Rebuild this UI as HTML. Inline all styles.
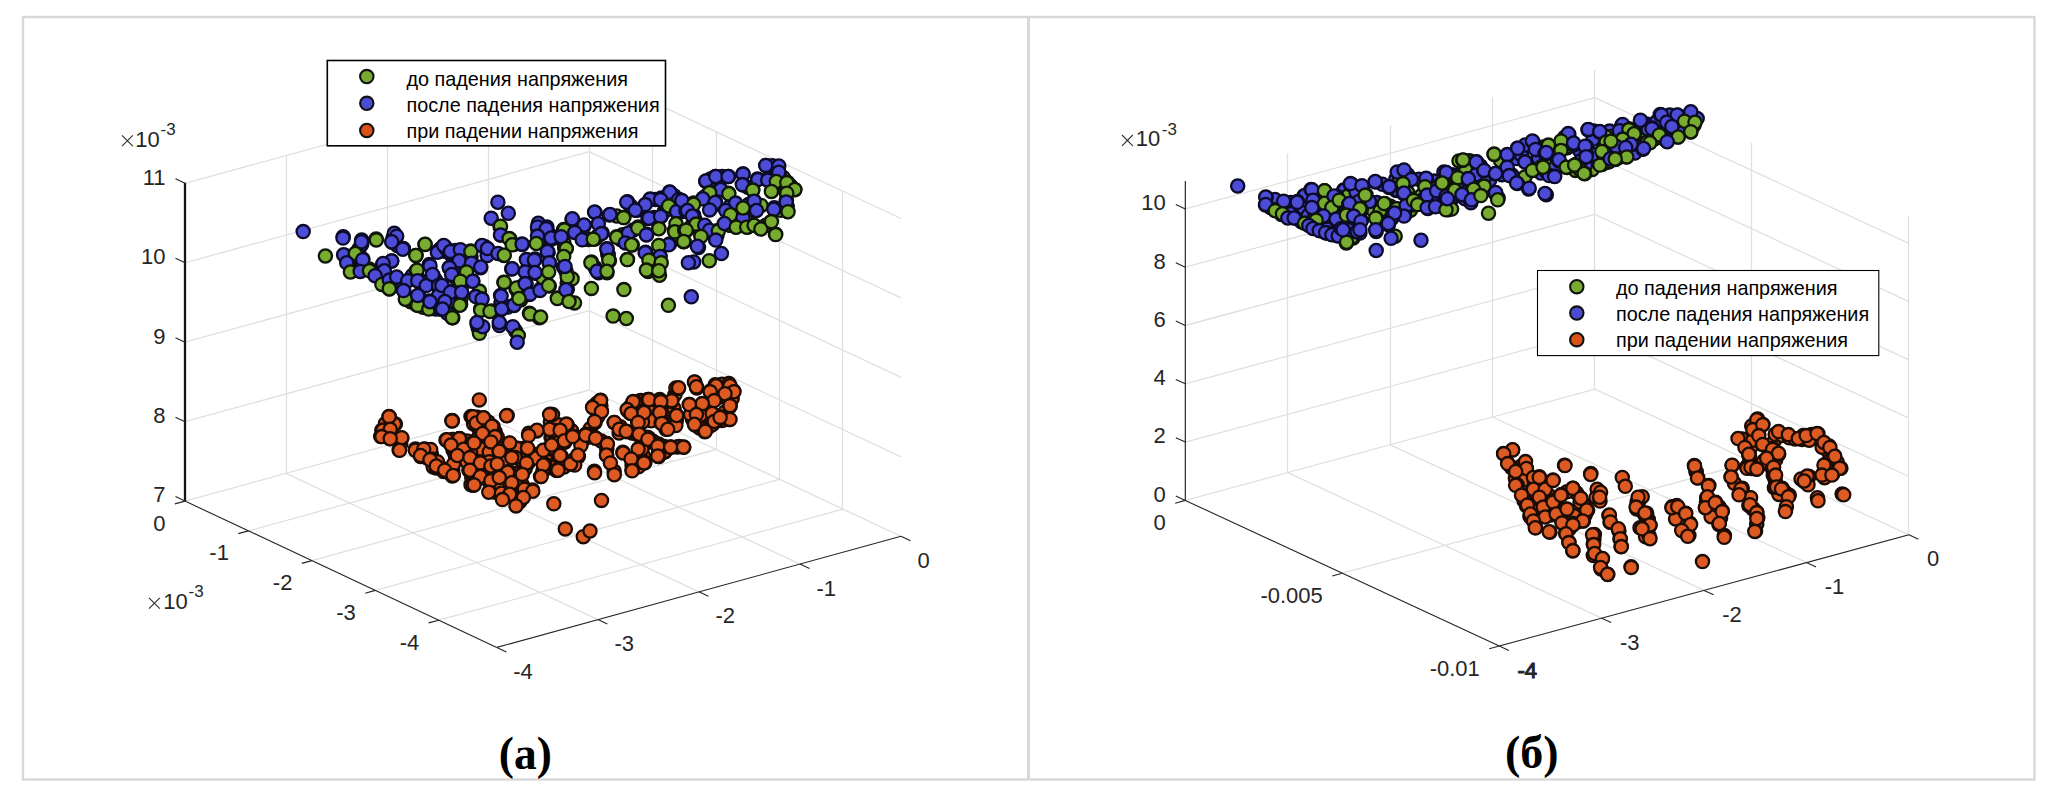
<!DOCTYPE html>
<html><head><meta charset="utf-8"><style>
html,body{margin:0;padding:0;background:#fff;width:2060px;height:810px;overflow:hidden}
svg{display:block;font-family:"Liberation Sans",sans-serif}
.G{fill:#77ac30;stroke:#0f1508;stroke-width:2.3px}
.B{fill:#4c4cd8;stroke:#0c0c2a;stroke-width:2.3px}
.O{fill:#dd5a22;stroke:#1c0c06;stroke-width:2.3px}
</style></head><body>
<svg width="2060" height="810" viewBox="0 0 2060 810">
<rect width="2060" height="810" fill="#fff"/>
<rect x="23" y="17" width="2011.5" height="762.5" fill="none" stroke="#d8d8d8" stroke-width="2.4"/>
<line x1="1028.5" y1="17" x2="1028.5" y2="780" stroke="#d8d8d8" stroke-width="3"/>
<line x1="185.0" y1="501.1" x2="589.2" y2="390.0" stroke="#e0e0e0" stroke-width="1.3"/>
<line x1="248.4" y1="530.9" x2="652.6" y2="419.8" stroke="#e0e0e0" stroke-width="1.3"/>
<line x1="311.9" y1="560.6" x2="716.1" y2="449.5" stroke="#e0e0e0" stroke-width="1.3"/>
<line x1="375.3" y1="590.4" x2="779.5" y2="479.3" stroke="#e0e0e0" stroke-width="1.3"/>
<line x1="438.8" y1="620.2" x2="843.0" y2="509.1" stroke="#e0e0e0" stroke-width="1.3"/>
<line x1="286.1" y1="473.3" x2="597.9" y2="619.6" stroke="#e0e0e0" stroke-width="1.3"/>
<line x1="387.1" y1="445.6" x2="698.9" y2="591.8" stroke="#e0e0e0" stroke-width="1.3"/>
<line x1="488.1" y1="417.8" x2="800.0" y2="564.1" stroke="#e0e0e0" stroke-width="1.3"/>
<line x1="589.2" y1="390.0" x2="901.0" y2="536.3" stroke="#e0e0e0" stroke-width="1.3"/>
<line x1="185.0" y1="421.7" x2="589.2" y2="310.6" stroke="#e0e0e0" stroke-width="1.3"/>
<line x1="589.2" y1="310.6" x2="901.0" y2="456.8" stroke="#e0e0e0" stroke-width="1.3"/>
<line x1="185.0" y1="342.2" x2="589.2" y2="231.1" stroke="#e0e0e0" stroke-width="1.3"/>
<line x1="589.2" y1="231.1" x2="901.0" y2="377.4" stroke="#e0e0e0" stroke-width="1.3"/>
<line x1="185.0" y1="262.8" x2="589.2" y2="151.7" stroke="#e0e0e0" stroke-width="1.3"/>
<line x1="589.2" y1="151.7" x2="901.0" y2="297.9" stroke="#e0e0e0" stroke-width="1.3"/>
<line x1="185.0" y1="183.3" x2="589.2" y2="72.2" stroke="#e0e0e0" stroke-width="1.3"/>
<line x1="589.2" y1="72.2" x2="901.0" y2="218.5" stroke="#e0e0e0" stroke-width="1.3"/>
<line x1="286.5" y1="473.3" x2="286.5" y2="155.0" stroke="#e0e0e0" stroke-width="1.3"/>
<line x1="387.5" y1="445.6" x2="387.5" y2="127.2" stroke="#e0e0e0" stroke-width="1.3"/>
<line x1="488.5" y1="417.8" x2="488.5" y2="99.5" stroke="#e0e0e0" stroke-width="1.3"/>
<line x1="589.5" y1="390.0" x2="589.5" y2="71.7" stroke="#e0e0e0" stroke-width="1.3"/>
<line x1="652.5" y1="419.8" x2="652.5" y2="101.5" stroke="#e0e0e0" stroke-width="1.3"/>
<line x1="716.5" y1="449.5" x2="716.5" y2="131.2" stroke="#e0e0e0" stroke-width="1.3"/>
<line x1="779.5" y1="479.3" x2="779.5" y2="161.0" stroke="#e0e0e0" stroke-width="1.3"/>
<line x1="842.5" y1="509.1" x2="842.5" y2="190.8" stroke="#e0e0e0" stroke-width="1.3"/>
<line x1="185.0" y1="501.1" x2="185.0" y2="182.8" stroke="#141414" stroke-width="2.3"/>
<line x1="185.0" y1="501.1" x2="175.5" y2="496.6" stroke="#262626" stroke-width="1.1"/>
<text x="165.5" y="502.4" text-anchor="end" font-size="22" fill="#262626" >7</text>
<line x1="185.0" y1="421.7" x2="175.5" y2="417.2" stroke="#262626" stroke-width="1.1"/>
<text x="165.5" y="423.0" text-anchor="end" font-size="22" fill="#262626" >8</text>
<line x1="185.0" y1="342.2" x2="175.5" y2="337.7" stroke="#262626" stroke-width="1.1"/>
<text x="165.5" y="343.5" text-anchor="end" font-size="22" fill="#262626" >9</text>
<line x1="185.0" y1="262.8" x2="175.5" y2="258.3" stroke="#262626" stroke-width="1.1"/>
<text x="165.5" y="264.1" text-anchor="end" font-size="22" fill="#262626" >10</text>
<line x1="185.0" y1="183.3" x2="175.5" y2="178.8" stroke="#262626" stroke-width="1.1"/>
<text x="165.5" y="184.6" text-anchor="end" font-size="22" fill="#262626" >11</text>
<line x1="185.0" y1="501.1" x2="174.9" y2="503.9" stroke="#262626" stroke-width="1.1"/>
<text x="165.5" y="530.6" text-anchor="end" font-size="22" fill="#262626" >0</text>
<line x1="248.4" y1="530.9" x2="238.3" y2="533.6" stroke="#262626" stroke-width="1.1"/>
<text x="228.9" y="560.4" text-anchor="end" font-size="22" fill="#262626" >-1</text>
<line x1="311.9" y1="560.6" x2="301.8" y2="563.4" stroke="#262626" stroke-width="1.1"/>
<text x="292.4" y="590.1" text-anchor="end" font-size="22" fill="#262626" >-2</text>
<line x1="375.3" y1="590.4" x2="365.2" y2="593.2" stroke="#262626" stroke-width="1.1"/>
<text x="355.8" y="619.9" text-anchor="end" font-size="22" fill="#262626" >-3</text>
<line x1="438.8" y1="620.2" x2="428.6" y2="622.9" stroke="#262626" stroke-width="1.1"/>
<text x="419.3" y="649.7" text-anchor="end" font-size="22" fill="#262626" >-4</text>
<line x1="496.8" y1="647.4" x2="506.3" y2="651.9" stroke="#262626" stroke-width="1.1"/>
<text x="513.3" y="678.9" text-anchor="start" font-size="22" fill="#262626" >-4</text>
<line x1="597.9" y1="619.6" x2="607.4" y2="624.1" stroke="#262626" stroke-width="1.1"/>
<text x="614.4" y="651.1" text-anchor="start" font-size="22" fill="#262626" >-3</text>
<line x1="698.9" y1="591.8" x2="708.4" y2="596.3" stroke="#262626" stroke-width="1.1"/>
<text x="715.4" y="623.3" text-anchor="start" font-size="22" fill="#262626" >-2</text>
<line x1="800.0" y1="564.1" x2="809.5" y2="568.5" stroke="#262626" stroke-width="1.1"/>
<text x="816.5" y="595.6" text-anchor="start" font-size="22" fill="#262626" >-1</text>
<line x1="901.0" y1="536.3" x2="910.5" y2="540.8" stroke="#262626" stroke-width="1.1"/>
<text x="917.5" y="567.8" text-anchor="start" font-size="22" fill="#262626" >0</text>
<line x1="185.0" y1="501.1" x2="496.8" y2="647.4" stroke="#262626" stroke-width="1.1"/>
<line x1="496.8" y1="647.4" x2="901.0" y2="536.3" stroke="#262626" stroke-width="1.1"/>
<path d="M122.0,135.4L132.8,146.2M132.8,135.4L122.0,146.2" stroke="#333" stroke-width="1.15" fill="none"/>
<text x="159.8" y="146.6" text-anchor="end" font-size="22" fill="#262626" >10</text>
<text x="160.6" y="134.8" text-anchor="start" font-size="17" fill="#262626" >-3</text>
<path d="M149.0,597.8L159.8,608.6M159.8,597.8L149.0,608.6" stroke="#333" stroke-width="1.15" fill="none"/>
<text x="187.8" y="608.7" text-anchor="end" font-size="22" fill="#262626" >10</text>
<text x="188.5" y="597.3" text-anchor="start" font-size="17" fill="#262626" >-3</text>
<circle class="O" cx="590.4" cy="428.4" r="6.6"/>
<circle class="O" cx="574.2" cy="459.4" r="6.6"/>
<circle class="O" cx="722.1" cy="420.4" r="6.6"/>
<circle class="O" cx="630.5" cy="406.2" r="6.6"/>
<circle class="O" cx="554.8" cy="429.8" r="6.6"/>
<circle class="O" cx="448.4" cy="472.2" r="6.6"/>
<circle class="O" cx="465.3" cy="455.5" r="6.6"/>
<circle class="O" cx="488.3" cy="422.2" r="6.6"/>
<circle class="O" cx="400.7" cy="444.0" r="6.6"/>
<circle class="O" cx="583.3" cy="439.8" r="6.6"/>
<circle class="O" cx="640.9" cy="417.5" r="6.6"/>
<circle class="O" cx="509.7" cy="477.5" r="6.6"/>
<circle class="O" cx="459.4" cy="452.3" r="6.6"/>
<circle class="O" cx="658.6" cy="450.9" r="6.6"/>
<circle class="O" cx="640.6" cy="400.6" r="6.6"/>
<circle class="O" cx="505.9" cy="489.5" r="6.6"/>
<circle class="O" cx="717.2" cy="420.6" r="6.6"/>
<circle class="O" cx="720.6" cy="389.8" r="6.6"/>
<circle class="O" cx="632.1" cy="465.5" r="6.6"/>
<circle class="O" cx="495.3" cy="492.3" r="6.6"/>
<circle class="O" cx="467.0" cy="440.9" r="6.6"/>
<circle class="O" cx="732.0" cy="398.7" r="6.6"/>
<circle class="O" cx="692.5" cy="419.4" r="6.6"/>
<circle class="O" cx="596.9" cy="403.4" r="6.6"/>
<circle class="O" cx="426.4" cy="457.5" r="6.6"/>
<circle class="O" cx="478.5" cy="438.4" r="6.6"/>
<circle class="O" cx="632.2" cy="433.1" r="6.6"/>
<circle class="O" cx="571.2" cy="430.4" r="6.6"/>
<circle class="O" cx="495.1" cy="431.8" r="6.6"/>
<circle class="O" cx="660.3" cy="407.1" r="6.6"/>
<circle class="O" cx="551.0" cy="437.3" r="6.6"/>
<circle class="O" cx="695.0" cy="409.8" r="6.6"/>
<circle class="O" cx="675.0" cy="394.6" r="6.6"/>
<circle class="O" cx="520.9" cy="460.1" r="6.6"/>
<circle class="O" cx="502.8" cy="467.9" r="6.6"/>
<circle class="O" cx="638.5" cy="466.7" r="6.6"/>
<circle class="O" cx="664.2" cy="451.5" r="6.6"/>
<circle class="O" cx="590.6" cy="436.7" r="6.6"/>
<circle class="O" cx="431.4" cy="454.0" r="6.6"/>
<circle class="O" cx="425.6" cy="452.5" r="6.6"/>
<circle class="O" cx="453.6" cy="439.5" r="6.6"/>
<circle class="O" cx="564.0" cy="467.0" r="6.6"/>
<circle class="O" cx="641.9" cy="455.8" r="6.6"/>
<circle class="O" cx="661.0" cy="417.3" r="6.6"/>
<circle class="O" cx="525.2" cy="468.7" r="6.6"/>
<circle class="O" cx="590.7" cy="436.2" r="6.6"/>
<circle class="O" cx="664.2" cy="446.6" r="6.6"/>
<circle class="O" cx="643.4" cy="455.8" r="6.6"/>
<circle class="O" cx="708.2" cy="402.3" r="6.6"/>
<circle class="O" cx="464.3" cy="454.4" r="6.6"/>
<circle class="O" cx="428.6" cy="454.2" r="6.6"/>
<circle class="O" cx="522.0" cy="448.5" r="6.6"/>
<circle class="O" cx="479.0" cy="428.8" r="6.6"/>
<circle class="O" cx="484.9" cy="450.3" r="6.6"/>
<circle class="O" cx="669.1" cy="419.1" r="6.6"/>
<circle class="O" cx="504.4" cy="447.1" r="6.6"/>
<circle class="O" cx="515.0" cy="473.4" r="6.6"/>
<circle class="O" cx="641.6" cy="400.9" r="6.6"/>
<circle class="O" cx="722.1" cy="384.2" r="6.6"/>
<circle class="O" cx="452.7" cy="439.4" r="6.6"/>
<circle class="O" cx="559.6" cy="463.0" r="6.6"/>
<circle class="O" cx="484.3" cy="462.3" r="6.6"/>
<circle class="O" cx="465.7" cy="455.5" r="6.6"/>
<circle class="O" cx="481.5" cy="441.1" r="6.6"/>
<circle class="O" cx="552.3" cy="438.1" r="6.6"/>
<circle class="O" cx="651.9" cy="412.5" r="6.6"/>
<circle class="O" cx="653.3" cy="442.3" r="6.6"/>
<circle class="O" cx="457.3" cy="447.1" r="6.6"/>
<circle class="O" cx="549.9" cy="467.7" r="6.6"/>
<circle class="O" cx="519.7" cy="501.7" r="6.6"/>
<circle class="O" cx="640.9" cy="417.5" r="6.6"/>
<circle class="O" cx="434.2" cy="463.2" r="6.6"/>
<circle class="O" cx="707.2" cy="408.5" r="6.6"/>
<circle class="O" cx="601.2" cy="440.9" r="6.6"/>
<circle class="O" cx="504.1" cy="474.6" r="6.6"/>
<circle class="O" cx="729.5" cy="392.7" r="6.6"/>
<circle class="O" cx="673.8" cy="408.6" r="6.6"/>
<circle class="O" cx="709.7" cy="426.3" r="6.6"/>
<circle class="O" cx="461.5" cy="444.0" r="6.6"/>
<circle class="O" cx="477.3" cy="417.2" r="6.6"/>
<circle class="O" cx="731.9" cy="398.3" r="6.6"/>
<circle class="O" cx="386.2" cy="434.5" r="6.6"/>
<circle class="O" cx="664.8" cy="451.8" r="6.6"/>
<circle class="O" cx="720.2" cy="396.7" r="6.6"/>
<circle class="O" cx="386.0" cy="423.5" r="6.6"/>
<circle class="O" cx="385.5" cy="423.5" r="6.6"/>
<circle class="O" cx="707.6" cy="408.9" r="6.6"/>
<circle class="O" cx="494.8" cy="474.4" r="6.6"/>
<circle class="O" cx="598.0" cy="416.4" r="6.6"/>
<circle class="O" cx="462.2" cy="458.6" r="6.6"/>
<circle class="O" cx="475.3" cy="453.2" r="6.6"/>
<circle class="O" cx="676.4" cy="420.6" r="6.6"/>
<circle class="O" cx="557.9" cy="444.0" r="6.6"/>
<circle class="O" cx="673.8" cy="408.2" r="6.6"/>
<circle class="O" cx="475.1" cy="473.4" r="6.6"/>
<circle class="O" cx="551.4" cy="467.2" r="6.6"/>
<circle class="O" cx="664.7" cy="451.8" r="6.6"/>
<circle class="O" cx="606.8" cy="449.4" r="6.6"/>
<circle class="O" cx="516.4" cy="493.8" r="6.6"/>
<circle class="O" cx="498.3" cy="444.2" r="6.6"/>
<circle class="O" cx="463.5" cy="456.0" r="6.6"/>
<circle class="O" cx="653.0" cy="441.3" r="6.6"/>
<circle class="O" cx="550.4" cy="421.9" r="6.6"/>
<circle class="O" cx="590.7" cy="436.6" r="6.6"/>
<circle class="O" cx="664.6" cy="451.7" r="6.6"/>
<circle class="O" cx="644.9" cy="444.1" r="6.6"/>
<circle class="O" cx="720.7" cy="389.6" r="6.6"/>
<circle class="O" cx="554.0" cy="433.2" r="6.6"/>
<circle class="O" cx="672.1" cy="421.9" r="6.6"/>
<circle class="O" cx="637.6" cy="413.0" r="6.6"/>
<circle class="O" cx="620.3" cy="426.8" r="6.6"/>
<circle class="O" cx="725.1" cy="411.9" r="6.6"/>
<circle class="O" cx="697.4" cy="419.7" r="6.6"/>
<circle class="O" cx="548.0" cy="449.2" r="6.6"/>
<circle class="O" cx="639.4" cy="407.4" r="6.6"/>
<circle class="O" cx="494.2" cy="456.5" r="6.6"/>
<circle class="O" cx="453.1" cy="450.2" r="6.6"/>
<circle class="O" cx="531.9" cy="453.4" r="6.6"/>
<circle class="O" cx="471.9" cy="447.9" r="6.6"/>
<circle class="O" cx="543.3" cy="457.6" r="6.6"/>
<circle class="O" cx="669.4" cy="419.0" r="6.6"/>
<circle class="O" cx="677.2" cy="447.1" r="6.6"/>
<circle class="O" cx="539.7" cy="454.1" r="6.6"/>
<circle class="O" cx="452.8" cy="470.1" r="6.6"/>
<circle class="O" cx="464.7" cy="454.3" r="6.6"/>
<circle class="O" cx="550.9" cy="452.9" r="6.6"/>
<circle class="O" cx="527.9" cy="455.6" r="6.6"/>
<circle class="O" cx="571.6" cy="430.9" r="6.6"/>
<circle class="O" cx="498.0" cy="470.9" r="6.6"/>
<circle class="O" cx="480.5" cy="468.5" r="6.6"/>
<circle class="O" cx="516.6" cy="495.9" r="6.6"/>
<circle class="O" cx="699.6" cy="428.0" r="6.6"/>
<circle class="O" cx="488.2" cy="422.2" r="6.6"/>
<circle class="O" cx="641.7" cy="400.9" r="6.6"/>
<circle class="O" cx="479.9" cy="469.7" r="6.6"/>
<circle class="O" cx="639.6" cy="407.3" r="6.6"/>
<circle class="O" cx="661.0" cy="417.5" r="6.6"/>
<circle class="O" cx="505.5" cy="454.4" r="6.6"/>
<circle class="O" cx="471.8" cy="477.9" r="6.6"/>
<circle class="O" cx="460.9" cy="451.8" r="6.6"/>
<circle class="O" cx="462.0" cy="443.4" r="6.6"/>
<circle class="O" cx="543.0" cy="470.3" r="6.6"/>
<circle class="O" cx="516.3" cy="479.2" r="6.6"/>
<circle class="O" cx="600.9" cy="405.9" r="6.6"/>
<circle class="O" cx="583.3" cy="440.3" r="6.6"/>
<circle class="O" cx="660.8" cy="417.7" r="6.6"/>
<circle class="O" cx="644.6" cy="443.1" r="6.6"/>
<circle class="O" cx="495.1" cy="471.8" r="6.6"/>
<circle class="O" cx="632.6" cy="432.7" r="6.6"/>
<circle class="O" cx="477.5" cy="438.7" r="6.6"/>
<circle class="O" cx="729.4" cy="392.4" r="6.6"/>
<circle class="O" cx="554.7" cy="450.6" r="6.6"/>
<circle class="O" cx="638.2" cy="428.6" r="6.6"/>
<circle class="O" cx="476.9" cy="479.6" r="6.6"/>
<circle class="O" cx="596.9" cy="403.6" r="6.6"/>
<circle class="O" cx="389.1" cy="416.5" r="6.6"/>
<circle class="O" cx="395.4" cy="423.9" r="6.6"/>
<circle class="O" cx="381.8" cy="430.2" r="6.6"/>
<circle class="O" cx="390.2" cy="430.2" r="6.6"/>
<circle class="O" cx="380.7" cy="436.5" r="6.6"/>
<circle class="O" cx="389.7" cy="438.6" r="6.6"/>
<circle class="O" cx="401.7" cy="438.6" r="6.6"/>
<circle class="O" cx="399.1" cy="450.1" r="6.6"/>
<circle class="O" cx="452.1" cy="420.7" r="6.6"/>
<circle class="O" cx="471.0" cy="416.5" r="6.6"/>
<circle class="O" cx="473.6" cy="423.9" r="6.6"/>
<circle class="O" cx="446.9" cy="440.2" r="6.6"/>
<circle class="O" cx="459.5" cy="438.6" r="6.6"/>
<circle class="O" cx="473.1" cy="442.8" r="6.6"/>
<circle class="O" cx="461.6" cy="447.0" r="6.6"/>
<circle class="O" cx="415.4" cy="449.1" r="6.6"/>
<circle class="O" cx="424.8" cy="449.1" r="6.6"/>
<circle class="O" cx="420.6" cy="456.4" r="6.6"/>
<circle class="O" cx="432.2" cy="458.5" r="6.6"/>
<circle class="O" cx="436.4" cy="463.8" r="6.6"/>
<circle class="O" cx="433.2" cy="466.9" r="6.6"/>
<circle class="O" cx="443.7" cy="469.0" r="6.6"/>
<circle class="O" cx="455.3" cy="455.4" r="6.6"/>
<circle class="O" cx="453.2" cy="475.3" r="6.6"/>
<circle class="O" cx="467.9" cy="461.7" r="6.6"/>
<circle class="O" cx="468.9" cy="470.1" r="6.6"/>
<circle class="O" cx="471.0" cy="484.8" r="6.6"/>
<circle class="O" cx="452.2" cy="420.4" r="6.6"/>
<circle class="O" cx="472.0" cy="417.3" r="6.6"/>
<circle class="O" cx="476.3" cy="423.5" r="6.6"/>
<circle class="O" cx="483.7" cy="417.9" r="6.6"/>
<circle class="O" cx="493.0" cy="426.5" r="6.6"/>
<circle class="O" cx="507.2" cy="415.4" r="6.6"/>
<circle class="O" cx="550.4" cy="414.2" r="6.6"/>
<circle class="O" cx="558.4" cy="424.7" r="6.6"/>
<circle class="O" cx="550.4" cy="429.6" r="6.6"/>
<circle class="O" cx="528.8" cy="433.3" r="6.6"/>
<circle class="O" cx="536.8" cy="430.9" r="6.6"/>
<circle class="O" cx="558.4" cy="437.0" r="6.6"/>
<circle class="O" cx="446.0" cy="440.1" r="6.6"/>
<circle class="O" cx="460.2" cy="438.9" r="6.6"/>
<circle class="O" cx="481.9" cy="434.6" r="6.6"/>
<circle class="O" cx="497.3" cy="437.0" r="6.6"/>
<circle class="O" cx="474.4" cy="443.2" r="6.6"/>
<circle class="O" cx="490.5" cy="442.6" r="6.6"/>
<circle class="O" cx="509.6" cy="443.2" r="6.6"/>
<circle class="O" cx="452.8" cy="445.7" r="6.6"/>
<circle class="O" cx="464.6" cy="448.1" r="6.6"/>
<circle class="O" cx="480.6" cy="448.8" r="6.6"/>
<circle class="O" cx="489.3" cy="451.9" r="6.6"/>
<circle class="O" cx="499.1" cy="451.2" r="6.6"/>
<circle class="O" cx="516.4" cy="448.1" r="6.6"/>
<circle class="O" cx="527.5" cy="448.8" r="6.6"/>
<circle class="O" cx="543.6" cy="450.6" r="6.6"/>
<circle class="O" cx="551.0" cy="445.7" r="6.6"/>
<circle class="O" cx="558.4" cy="455.6" r="6.6"/>
<circle class="O" cx="457.2" cy="454.3" r="6.6"/>
<circle class="O" cx="470.7" cy="453.1" r="6.6"/>
<circle class="O" cx="430.6" cy="449.4" r="6.6"/>
<circle class="O" cx="432.5" cy="459.3" r="6.6"/>
<circle class="O" cx="437.4" cy="461.7" r="6.6"/>
<circle class="O" cx="436.2" cy="467.9" r="6.6"/>
<circle class="O" cx="443.6" cy="471.6" r="6.6"/>
<circle class="O" cx="453.5" cy="464.2" r="6.6"/>
<circle class="O" cx="467.0" cy="461.7" r="6.6"/>
<circle class="O" cx="479.4" cy="463.0" r="6.6"/>
<circle class="O" cx="489.3" cy="461.7" r="6.6"/>
<circle class="O" cx="496.7" cy="464.2" r="6.6"/>
<circle class="O" cx="504.1" cy="460.5" r="6.6"/>
<circle class="O" cx="515.2" cy="457.4" r="6.6"/>
<circle class="O" cx="528.1" cy="463.0" r="6.6"/>
<circle class="O" cx="536.2" cy="458.0" r="6.6"/>
<circle class="O" cx="544.8" cy="464.2" r="6.6"/>
<circle class="O" cx="452.2" cy="475.9" r="6.6"/>
<circle class="O" cx="469.5" cy="471.0" r="6.6"/>
<circle class="O" cx="480.6" cy="474.1" r="6.6"/>
<circle class="O" cx="490.5" cy="471.6" r="6.6"/>
<circle class="O" cx="499.1" cy="477.2" r="6.6"/>
<circle class="O" cx="509.0" cy="471.6" r="6.6"/>
<circle class="O" cx="522.0" cy="474.7" r="6.6"/>
<circle class="O" cx="540.5" cy="476.5" r="6.6"/>
<circle class="O" cx="556.5" cy="470.4" r="6.6"/>
<circle class="O" cx="473.2" cy="485.2" r="6.6"/>
<circle class="O" cx="488.0" cy="480.2" r="6.6"/>
<circle class="O" cx="499.1" cy="484.0" r="6.6"/>
<circle class="O" cx="510.2" cy="484.0" r="6.6"/>
<circle class="O" cx="522.6" cy="485.2" r="6.6"/>
<circle class="O" cx="532.5" cy="490.1" r="6.6"/>
<circle class="O" cx="489.3" cy="491.4" r="6.6"/>
<circle class="O" cx="501.6" cy="495.1" r="6.6"/>
<circle class="O" cx="510.2" cy="492.6" r="6.6"/>
<circle class="O" cx="522.6" cy="495.1" r="6.6"/>
<circle class="O" cx="675.9" cy="388.0" r="6.6"/>
<circle class="O" cx="671.6" cy="401.5" r="6.6"/>
<circle class="O" cx="648.1" cy="399.7" r="6.6"/>
<circle class="O" cx="635.2" cy="402.2" r="6.6"/>
<circle class="O" cx="600.6" cy="400.3" r="6.6"/>
<circle class="O" cx="593.2" cy="406.5" r="6.6"/>
<circle class="O" cx="601.2" cy="411.4" r="6.6"/>
<circle class="O" cx="627.8" cy="410.8" r="6.6"/>
<circle class="O" cx="630.2" cy="413.3" r="6.6"/>
<circle class="O" cx="643.8" cy="412.7" r="6.6"/>
<circle class="O" cx="659.9" cy="412.0" r="6.6"/>
<circle class="O" cx="675.9" cy="415.7" r="6.6"/>
<circle class="O" cx="595.1" cy="422.5" r="6.6"/>
<circle class="O" cx="614.2" cy="422.5" r="6.6"/>
<circle class="O" cx="637.7" cy="422.5" r="6.6"/>
<circle class="O" cx="651.2" cy="420.7" r="6.6"/>
<circle class="O" cx="661.1" cy="423.1" r="6.6"/>
<circle class="O" cx="666.0" cy="429.3" r="6.6"/>
<circle class="O" cx="552.5" cy="414.5" r="6.6"/>
<circle class="O" cx="567.3" cy="425.0" r="6.6"/>
<circle class="O" cx="553.7" cy="430.6" r="6.6"/>
<circle class="O" cx="575.9" cy="436.7" r="6.6"/>
<circle class="O" cx="585.8" cy="434.3" r="6.6"/>
<circle class="O" cx="595.7" cy="438.0" r="6.6"/>
<circle class="O" cx="619.1" cy="433.0" r="6.6"/>
<circle class="O" cx="626.5" cy="431.8" r="6.6"/>
<circle class="O" cx="638.3" cy="434.9" r="6.6"/>
<circle class="O" cx="648.8" cy="438.0" r="6.6"/>
<circle class="O" cx="564.8" cy="442.3" r="6.6"/>
<circle class="O" cx="580.9" cy="445.4" r="6.6"/>
<circle class="O" cx="552.5" cy="447.8" r="6.6"/>
<circle class="O" cx="606.8" cy="443.5" r="6.6"/>
<circle class="O" cx="622.8" cy="452.2" r="6.6"/>
<circle class="O" cx="638.9" cy="449.1" r="6.6"/>
<circle class="O" cx="658.6" cy="445.4" r="6.6"/>
<circle class="O" cx="670.4" cy="447.2" r="6.6"/>
<circle class="O" cx="679.0" cy="446.6" r="6.6"/>
<circle class="O" cx="561.1" cy="455.9" r="6.6"/>
<circle class="O" cx="578.4" cy="456.5" r="6.6"/>
<circle class="O" cx="606.8" cy="455.2" r="6.6"/>
<circle class="O" cx="658.6" cy="456.5" r="6.6"/>
<circle class="O" cx="632.1" cy="460.2" r="6.6"/>
<circle class="O" cx="644.4" cy="462.7" r="6.6"/>
<circle class="O" cx="574.7" cy="465.1" r="6.6"/>
<circle class="O" cx="557.4" cy="470.1" r="6.6"/>
<circle class="O" cx="594.4" cy="471.3" r="6.6"/>
<circle class="O" cx="614.2" cy="471.3" r="6.6"/>
<circle class="O" cx="632.1" cy="470.1" r="6.6"/>
<circle class="O" cx="694.9" cy="382.3" r="6.6"/>
<circle class="O" cx="678.3" cy="388.5" r="6.6"/>
<circle class="O" cx="696.8" cy="387.9" r="6.6"/>
<circle class="O" cx="715.3" cy="384.8" r="6.6"/>
<circle class="O" cx="728.9" cy="383.6" r="6.6"/>
<circle class="O" cx="733.8" cy="391.0" r="6.6"/>
<circle class="O" cx="710.4" cy="391.0" r="6.6"/>
<circle class="O" cx="725.2" cy="393.5" r="6.6"/>
<circle class="O" cx="648.0" cy="399.6" r="6.6"/>
<circle class="O" cx="659.8" cy="399.6" r="6.6"/>
<circle class="O" cx="671.5" cy="400.9" r="6.6"/>
<circle class="O" cx="689.4" cy="404.6" r="6.6"/>
<circle class="O" cx="702.3" cy="404.0" r="6.6"/>
<circle class="O" cx="715.3" cy="399.6" r="6.6"/>
<circle class="O" cx="730.1" cy="406.4" r="6.6"/>
<circle class="O" cx="643.7" cy="412.6" r="6.6"/>
<circle class="O" cx="659.8" cy="412.6" r="6.6"/>
<circle class="O" cx="677.0" cy="415.7" r="6.6"/>
<circle class="O" cx="690.6" cy="414.4" r="6.6"/>
<circle class="O" cx="700.5" cy="415.1" r="6.6"/>
<circle class="O" cx="712.8" cy="413.8" r="6.6"/>
<circle class="O" cx="721.5" cy="416.9" r="6.6"/>
<circle class="O" cx="728.9" cy="419.4" r="6.6"/>
<circle class="O" cx="642.5" cy="421.9" r="6.6"/>
<circle class="O" cx="662.2" cy="422.5" r="6.6"/>
<circle class="O" cx="667.2" cy="428.0" r="6.6"/>
<circle class="O" cx="675.8" cy="425.6" r="6.6"/>
<circle class="O" cx="694.9" cy="424.9" r="6.6"/>
<circle class="O" cx="704.8" cy="431.7" r="6.6"/>
<circle class="O" cx="712.8" cy="424.3" r="6.6"/>
<circle class="O" cx="647.4" cy="437.3" r="6.6"/>
<circle class="O" cx="658.5" cy="444.1" r="6.6"/>
<circle class="O" cx="670.9" cy="447.2" r="6.6"/>
<circle class="O" cx="683.8" cy="447.2" r="6.6"/>
<circle class="O" cx="641.9" cy="449.0" r="6.6"/>
<circle class="O" cx="658.5" cy="456.4" r="6.6"/>
<circle class="O" cx="644.9" cy="462.6" r="6.6"/>
<circle class="O" cx="479.3" cy="399.9" r="6.6"/>
<circle class="O" cx="394.4" cy="424.1" r="6.6"/>
<circle class="O" cx="389.1" cy="416.7" r="6.6"/>
<circle class="O" cx="382.8" cy="430.3" r="6.6"/>
<circle class="O" cx="390.2" cy="429.3" r="6.6"/>
<circle class="O" cx="381.8" cy="436.6" r="6.6"/>
<circle class="O" cx="401.7" cy="437.7" r="6.6"/>
<circle class="O" cx="390.2" cy="438.7" r="6.6"/>
<circle class="O" cx="399.6" cy="450.3" r="6.6"/>
<circle class="O" cx="452.1" cy="420.9" r="6.6"/>
<circle class="O" cx="473.0" cy="416.7" r="6.6"/>
<circle class="O" cx="476.2" cy="423.0" r="6.6"/>
<circle class="O" cx="483.5" cy="417.8" r="6.6"/>
<circle class="O" cx="491.9" cy="426.2" r="6.6"/>
<circle class="O" cx="506.6" cy="415.7" r="6.6"/>
<circle class="O" cx="549.6" cy="414.6" r="6.6"/>
<circle class="O" cx="566.4" cy="424.1" r="6.6"/>
<circle class="O" cx="549.6" cy="429.3" r="6.6"/>
<circle class="O" cx="537.0" cy="430.3" r="6.6"/>
<circle class="O" cx="528.6" cy="435.6" r="6.6"/>
<circle class="O" cx="560.1" cy="430.3" r="6.6"/>
<circle class="O" cx="482.5" cy="433.5" r="6.6"/>
<circle class="O" cx="495.1" cy="436.6" r="6.6"/>
<circle class="O" cx="446.8" cy="439.8" r="6.6"/>
<circle class="O" cx="459.4" cy="438.7" r="6.6"/>
<circle class="O" cx="415.3" cy="450.3" r="6.6"/>
<circle class="O" cx="423.7" cy="449.2" r="6.6"/>
<circle class="O" cx="420.6" cy="455.5" r="6.6"/>
<circle class="O" cx="430.0" cy="459.7" r="6.6"/>
<circle class="O" cx="436.3" cy="466.0" r="6.6"/>
<circle class="O" cx="444.7" cy="470.2" r="6.6"/>
<circle class="O" cx="453.1" cy="475.4" r="6.6"/>
<circle class="O" cx="451.0" cy="445.0" r="6.6"/>
<circle class="O" cx="463.6" cy="449.2" r="6.6"/>
<circle class="O" cx="474.1" cy="442.9" r="6.6"/>
<circle class="O" cx="490.9" cy="441.9" r="6.6"/>
<circle class="O" cx="509.7" cy="442.9" r="6.6"/>
<circle class="O" cx="457.3" cy="455.5" r="6.6"/>
<circle class="O" cx="469.9" cy="457.6" r="6.6"/>
<circle class="O" cx="480.4" cy="462.9" r="6.6"/>
<circle class="O" cx="499.3" cy="451.3" r="6.6"/>
<circle class="O" cx="511.8" cy="457.6" r="6.6"/>
<circle class="O" cx="527.6" cy="448.2" r="6.6"/>
<circle class="O" cx="543.3" cy="450.3" r="6.6"/>
<circle class="O" cx="551.7" cy="445.0" r="6.6"/>
<circle class="O" cx="564.3" cy="440.8" r="6.6"/>
<circle class="O" cx="572.7" cy="436.6" r="6.6"/>
<circle class="O" cx="560.1" cy="455.5" r="6.6"/>
<circle class="O" cx="526.5" cy="462.9" r="6.6"/>
<circle class="O" cx="543.3" cy="465.0" r="6.6"/>
<circle class="O" cx="558.0" cy="470.2" r="6.6"/>
<circle class="O" cx="570.6" cy="463.9" r="6.6"/>
<circle class="O" cx="469.9" cy="470.2" r="6.6"/>
<circle class="O" cx="490.9" cy="466.0" r="6.6"/>
<circle class="O" cx="497.2" cy="463.9" r="6.6"/>
<circle class="O" cx="507.6" cy="472.3" r="6.6"/>
<circle class="O" cx="522.3" cy="474.4" r="6.6"/>
<circle class="O" cx="541.2" cy="476.5" r="6.6"/>
<circle class="O" cx="480.4" cy="476.5" r="6.6"/>
<circle class="O" cx="490.9" cy="480.7" r="6.6"/>
<circle class="O" cx="499.3" cy="477.5" r="6.6"/>
<circle class="O" cx="511.8" cy="482.8" r="6.6"/>
<circle class="O" cx="474.1" cy="484.9" r="6.6"/>
<circle class="O" cx="488.8" cy="492.2" r="6.6"/>
<circle class="O" cx="501.4" cy="493.3" r="6.6"/>
<circle class="O" cx="509.7" cy="494.3" r="6.6"/>
<circle class="O" cx="524.4" cy="489.1" r="6.6"/>
<circle class="O" cx="532.8" cy="491.2" r="6.6"/>
<circle class="O" cx="502.4" cy="499.6" r="6.6"/>
<circle class="O" cx="523.4" cy="497.5" r="6.6"/>
<circle class="O" cx="516.0" cy="505.9" r="6.6"/>
<circle class="O" cx="553.8" cy="503.8" r="6.6"/>
<circle class="O" cx="565.3" cy="528.9" r="6.6"/>
<circle class="O" cx="694.4" cy="381.9" r="6.6"/>
<circle class="O" cx="678.6" cy="387.8" r="6.6"/>
<circle class="O" cx="696.4" cy="386.8" r="6.6"/>
<circle class="O" cx="716.1" cy="385.8" r="6.6"/>
<circle class="O" cx="730.0" cy="385.8" r="6.6"/>
<circle class="O" cx="733.9" cy="391.7" r="6.6"/>
<circle class="O" cx="710.2" cy="391.7" r="6.6"/>
<circle class="O" cx="725.0" cy="393.7" r="6.6"/>
<circle class="O" cx="714.2" cy="400.6" r="6.6"/>
<circle class="O" cx="730.0" cy="405.6" r="6.6"/>
<circle class="O" cx="702.3" cy="403.6" r="6.6"/>
<circle class="O" cx="689.4" cy="404.6" r="6.6"/>
<circle class="O" cx="671.7" cy="400.6" r="6.6"/>
<circle class="O" cx="648.9" cy="399.6" r="6.6"/>
<circle class="O" cx="633.1" cy="401.6" r="6.6"/>
<circle class="O" cx="660.8" cy="401.6" r="6.6"/>
<circle class="O" cx="600.5" cy="400.6" r="6.6"/>
<circle class="O" cx="592.6" cy="407.5" r="6.6"/>
<circle class="O" cx="601.5" cy="411.5" r="6.6"/>
<circle class="O" cx="594.6" cy="421.4" r="6.6"/>
<circle class="O" cx="614.3" cy="422.4" r="6.6"/>
<circle class="O" cx="627.2" cy="409.5" r="6.6"/>
<circle class="O" cx="631.1" cy="413.5" r="6.6"/>
<circle class="O" cx="644.0" cy="412.5" r="6.6"/>
<circle class="O" cx="659.8" cy="412.5" r="6.6"/>
<circle class="O" cx="676.6" cy="415.5" r="6.6"/>
<circle class="O" cx="696.4" cy="414.5" r="6.6"/>
<circle class="O" cx="712.2" cy="413.5" r="6.6"/>
<circle class="O" cx="730.0" cy="419.4" r="6.6"/>
<circle class="O" cx="694.4" cy="424.3" r="6.6"/>
<circle class="O" cx="714.2" cy="421.4" r="6.6"/>
<circle class="O" cx="720.1" cy="417.4" r="6.6"/>
<circle class="O" cx="705.3" cy="431.3" r="6.6"/>
<circle class="O" cx="661.8" cy="423.4" r="6.6"/>
<circle class="O" cx="667.7" cy="429.3" r="6.6"/>
<circle class="O" cx="638.1" cy="422.4" r="6.6"/>
<circle class="O" cx="619.3" cy="429.3" r="6.6"/>
<circle class="O" cx="626.2" cy="431.3" r="6.6"/>
<circle class="O" cx="639.1" cy="434.2" r="6.6"/>
<circle class="O" cx="647.9" cy="439.2" r="6.6"/>
<circle class="O" cx="585.7" cy="435.2" r="6.6"/>
<circle class="O" cx="595.6" cy="438.2" r="6.6"/>
<circle class="O" cx="607.4" cy="444.1" r="6.6"/>
<circle class="O" cx="606.4" cy="455.0" r="6.6"/>
<circle class="O" cx="610.4" cy="462.9" r="6.6"/>
<circle class="O" cx="623.2" cy="453.0" r="6.6"/>
<circle class="O" cx="638.1" cy="449.1" r="6.6"/>
<circle class="O" cx="631.1" cy="458.9" r="6.6"/>
<circle class="O" cx="644.0" cy="462.9" r="6.6"/>
<circle class="O" cx="657.8" cy="446.1" r="6.6"/>
<circle class="O" cx="657.8" cy="456.0" r="6.6"/>
<circle class="O" cx="670.7" cy="447.1" r="6.6"/>
<circle class="O" cx="683.5" cy="447.1" r="6.6"/>
<circle class="O" cx="577.8" cy="455.0" r="6.6"/>
<circle class="O" cx="594.6" cy="472.8" r="6.6"/>
<circle class="O" cx="614.3" cy="474.7" r="6.6"/>
<circle class="O" cx="632.1" cy="470.8" r="6.6"/>
<circle class="O" cx="601.5" cy="500.4" r="6.6"/>
<circle class="O" cx="583.3" cy="536.7" r="6.6"/>
<circle class="O" cx="590.0" cy="531.0" r="6.6"/>
<circle class="B" cx="781.0" cy="209.6" r="6.6"/>
<circle class="B" cx="393.2" cy="237.8" r="6.6"/>
<circle class="B" cx="501.4" cy="302.4" r="6.6"/>
<circle class="G" cx="607.8" cy="254.6" r="6.6"/>
<circle class="B" cx="521.1" cy="286.7" r="6.6"/>
<circle class="B" cx="566.0" cy="271.6" r="6.6"/>
<circle class="B" cx="548.6" cy="233.3" r="6.6"/>
<circle class="B" cx="454.4" cy="264.3" r="6.6"/>
<circle class="B" cx="422.8" cy="302.8" r="6.6"/>
<circle class="G" cx="358.9" cy="248.9" r="6.6"/>
<circle class="B" cx="574.5" cy="225.8" r="6.6"/>
<circle class="G" cx="786.9" cy="206.6" r="6.6"/>
<circle class="B" cx="703.3" cy="231.2" r="6.6"/>
<circle class="B" cx="435.6" cy="309.0" r="6.6"/>
<circle class="B" cx="681.3" cy="204.9" r="6.6"/>
<circle class="B" cx="706.2" cy="195.7" r="6.6"/>
<circle class="B" cx="744.3" cy="222.9" r="6.6"/>
<circle class="G" cx="515.6" cy="331.1" r="6.6"/>
<circle class="B" cx="655.4" cy="199.4" r="6.6"/>
<circle class="B" cx="458.8" cy="254.7" r="6.6"/>
<circle class="B" cx="633.4" cy="230.0" r="6.6"/>
<circle class="G" cx="664.5" cy="210.9" r="6.6"/>
<circle class="B" cx="393.0" cy="282.8" r="6.6"/>
<circle class="G" cx="669.1" cy="199.0" r="6.6"/>
<circle class="G" cx="563.7" cy="242.6" r="6.6"/>
<circle class="B" cx="440.6" cy="248.8" r="6.6"/>
<circle class="B" cx="542.6" cy="231.9" r="6.6"/>
<circle class="B" cx="382.7" cy="277.8" r="6.6"/>
<circle class="G" cx="664.9" cy="211.0" r="6.6"/>
<circle class="B" cx="787.1" cy="206.8" r="6.6"/>
<circle class="B" cx="397.3" cy="245.5" r="6.6"/>
<circle class="B" cx="595.0" cy="267.4" r="6.6"/>
<circle class="G" cx="478.2" cy="327.9" r="6.6"/>
<circle class="B" cx="710.5" cy="178.9" r="6.6"/>
<circle class="B" cx="507.9" cy="307.1" r="6.6"/>
<circle class="B" cx="597.8" cy="236.1" r="6.6"/>
<circle class="B" cx="631.0" cy="206.2" r="6.6"/>
<circle class="G" cx="410.7" cy="301.8" r="6.6"/>
<circle class="B" cx="471.0" cy="257.2" r="6.6"/>
<circle class="G" cx="765.8" cy="225.6" r="6.6"/>
<circle class="B" cx="732.7" cy="209.0" r="6.6"/>
<circle class="B" cx="537.9" cy="229.7" r="6.6"/>
<circle class="G" cx="567.2" cy="283.2" r="6.6"/>
<circle class="B" cx="677.6" cy="205.6" r="6.6"/>
<circle class="B" cx="445.5" cy="305.3" r="6.6"/>
<circle class="G" cx="742.4" cy="213.3" r="6.6"/>
<circle class="B" cx="712.4" cy="206.2" r="6.6"/>
<circle class="G" cx="780.7" cy="210.3" r="6.6"/>
<circle class="B" cx="745.4" cy="222.5" r="6.6"/>
<circle class="G" cx="664.5" cy="202.5" r="6.6"/>
<circle class="G" cx="463.5" cy="277.1" r="6.6"/>
<circle class="G" cx="588.6" cy="239.4" r="6.6"/>
<circle class="G" cx="680.5" cy="230.6" r="6.6"/>
<circle class="G" cx="466.5" cy="281.2" r="6.6"/>
<circle class="B" cx="451.0" cy="302.8" r="6.6"/>
<circle class="G" cx="691.1" cy="226.8" r="6.6"/>
<circle class="B" cx="621.0" cy="239.8" r="6.6"/>
<circle class="B" cx="447.3" cy="313.3" r="6.6"/>
<circle class="G" cx="545.7" cy="281.6" r="6.6"/>
<circle class="B" cx="435.6" cy="280.1" r="6.6"/>
<circle class="B" cx="416.6" cy="275.1" r="6.6"/>
<circle class="B" cx="361.7" cy="265.0" r="6.6"/>
<circle class="G" cx="622.6" cy="234.8" r="6.6"/>
<circle class="B" cx="722.2" cy="176.5" r="6.6"/>
<circle class="B" cx="694.9" cy="219.5" r="6.6"/>
<circle class="G" cx="786.8" cy="188.0" r="6.6"/>
<circle class="B" cx="455.0" cy="277.6" r="6.6"/>
<circle class="B" cx="747.9" cy="187.3" r="6.6"/>
<circle class="B" cx="556.2" cy="237.3" r="6.6"/>
<circle class="B" cx="674.2" cy="196.0" r="6.6"/>
<circle class="B" cx="730.1" cy="225.2" r="6.6"/>
<circle class="B" cx="654.3" cy="217.5" r="6.6"/>
<circle class="B" cx="455.4" cy="250.6" r="6.6"/>
<circle class="B" cx="501.1" cy="302.3" r="6.6"/>
<circle class="B" cx="547.2" cy="234.0" r="6.6"/>
<circle class="G" cx="423.2" cy="307.2" r="6.6"/>
<circle class="G" cx="679.6" cy="230.6" r="6.6"/>
<circle class="B" cx="772.3" cy="165.7" r="6.6"/>
<circle class="G" cx="766.1" cy="225.3" r="6.6"/>
<circle class="B" cx="674.1" cy="195.9" r="6.6"/>
<circle class="G" cx="748.0" cy="222.0" r="6.6"/>
<circle class="B" cx="530.6" cy="271.8" r="6.6"/>
<circle class="B" cx="717.0" cy="235.5" r="6.6"/>
<circle class="B" cx="429.4" cy="280.1" r="6.6"/>
<circle class="G" cx="730.3" cy="225.3" r="6.6"/>
<circle class="B" cx="444.2" cy="293.6" r="6.6"/>
<circle class="G" cx="461.1" cy="298.3" r="6.6"/>
<circle class="B" cx="412.4" cy="275.4" r="6.6"/>
<circle class="G" cx="790.8" cy="186.1" r="6.6"/>
<circle class="B" cx="712.5" cy="197.2" r="6.6"/>
<circle class="B" cx="455.7" cy="292.0" r="6.6"/>
<circle class="G" cx="616.8" cy="216.0" r="6.6"/>
<circle class="B" cx="683.0" cy="205.4" r="6.6"/>
<circle class="G" cx="783.2" cy="177.4" r="6.6"/>
<circle class="B" cx="718.0" cy="182.5" r="6.6"/>
<circle class="B" cx="681.4" cy="211.7" r="6.6"/>
<circle class="G" cx="518.5" cy="294.0" r="6.6"/>
<circle class="B" cx="608.2" cy="254.7" r="6.6"/>
<circle class="G" cx="386.8" cy="282.2" r="6.6"/>
<circle class="B" cx="748.5" cy="204.6" r="6.6"/>
<circle class="B" cx="439.6" cy="302.3" r="6.6"/>
<circle class="B" cx="449.5" cy="297.0" r="6.6"/>
<circle class="B" cx="444.4" cy="251.3" r="6.6"/>
<circle class="G" cx="773.8" cy="186.4" r="6.6"/>
<circle class="B" cx="497.9" cy="202.2" r="6.6"/>
<circle class="B" cx="508.3" cy="213.3" r="6.6"/>
<circle class="B" cx="491.2" cy="218.2" r="6.6"/>
<circle class="G" cx="500.1" cy="226.7" r="6.6"/>
<circle class="B" cx="501.0" cy="235.1" r="6.6"/>
<circle class="G" cx="509.9" cy="238.9" r="6.6"/>
<circle class="G" cx="513.9" cy="244.4" r="6.6"/>
<circle class="B" cx="522.3" cy="244.4" r="6.6"/>
<circle class="B" cx="538.3" cy="223.3" r="6.6"/>
<circle class="B" cx="538.3" cy="236.7" r="6.6"/>
<circle class="G" cx="538.3" cy="242.2" r="6.6"/>
<circle class="B" cx="542.8" cy="228.9" r="6.6"/>
<circle class="B" cx="303.2" cy="231.6" r="6.6"/>
<circle class="G" cx="325.4" cy="256.0" r="6.6"/>
<circle class="B" cx="343.2" cy="236.7" r="6.6"/>
<circle class="B" cx="361.7" cy="240.0" r="6.6"/>
<circle class="B" cx="361.7" cy="244.4" r="6.6"/>
<circle class="G" cx="376.1" cy="238.9" r="6.6"/>
<circle class="B" cx="394.3" cy="233.3" r="6.6"/>
<circle class="B" cx="392.1" cy="242.2" r="6.6"/>
<circle class="B" cx="403.4" cy="248.4" r="6.6"/>
<circle class="G" cx="425.0" cy="244.4" r="6.6"/>
<circle class="G" cx="416.1" cy="255.6" r="6.6"/>
<circle class="G" cx="356.1" cy="253.3" r="6.6"/>
<circle class="B" cx="345.0" cy="255.6" r="6.6"/>
<circle class="B" cx="348.3" cy="262.2" r="6.6"/>
<circle class="B" cx="362.8" cy="258.9" r="6.6"/>
<circle class="G" cx="351.7" cy="271.1" r="6.6"/>
<circle class="B" cx="360.6" cy="271.1" r="6.6"/>
<circle class="G" cx="369.4" cy="268.9" r="6.6"/>
<circle class="B" cx="382.8" cy="264.4" r="6.6"/>
<circle class="B" cx="391.7" cy="261.1" r="6.6"/>
<circle class="B" cx="376.1" cy="275.6" r="6.6"/>
<circle class="G" cx="382.8" cy="282.2" r="6.6"/>
<circle class="G" cx="389.4" cy="288.9" r="6.6"/>
<circle class="B" cx="391.7" cy="280.0" r="6.6"/>
<circle class="B" cx="402.8" cy="284.4" r="6.6"/>
<circle class="B" cx="403.9" cy="291.1" r="6.6"/>
<circle class="G" cx="406.1" cy="298.9" r="6.6"/>
<circle class="G" cx="416.1" cy="271.1" r="6.6"/>
<circle class="B" cx="416.1" cy="280.0" r="6.6"/>
<circle class="G" cx="416.1" cy="304.4" r="6.6"/>
<circle class="B" cx="418.3" cy="295.6" r="6.6"/>
<circle class="B" cx="429.4" cy="264.4" r="6.6"/>
<circle class="B" cx="432.8" cy="275.6" r="6.6"/>
<circle class="B" cx="438.3" cy="251.1" r="6.6"/>
<circle class="B" cx="445.0" cy="246.7" r="6.6"/>
<circle class="B" cx="449.4" cy="251.1" r="6.6"/>
<circle class="B" cx="458.3" cy="260.0" r="6.6"/>
<circle class="G" cx="470.6" cy="251.1" r="6.6"/>
<circle class="B" cx="449.4" cy="267.8" r="6.6"/>
<circle class="G" cx="460.6" cy="282.2" r="6.6"/>
<circle class="B" cx="438.3" cy="286.7" r="6.6"/>
<circle class="B" cx="449.4" cy="293.3" r="6.6"/>
<circle class="G" cx="429.4" cy="306.7" r="6.6"/>
<circle class="B" cx="429.4" cy="301.1" r="6.6"/>
<circle class="B" cx="440.6" cy="308.9" r="6.6"/>
<circle class="B" cx="461.7" cy="292.2" r="6.6"/>
<circle class="G" cx="460.6" cy="304.4" r="6.6"/>
<circle class="G" cx="452.8" cy="317.8" r="6.6"/>
<circle class="B" cx="471.7" cy="263.3" r="6.6"/>
<circle class="B" cx="480.6" cy="267.8" r="6.6"/>
<circle class="B" cx="472.8" cy="281.1" r="6.6"/>
<circle class="B" cx="485.0" cy="246.7" r="6.6"/>
<circle class="B" cx="487.2" cy="255.6" r="6.6"/>
<circle class="G" cx="503.9" cy="255.6" r="6.6"/>
<circle class="B" cx="511.7" cy="268.9" r="6.6"/>
<circle class="G" cx="503.9" cy="282.2" r="6.6"/>
<circle class="B" cx="527.2" cy="260.0" r="6.6"/>
<circle class="B" cx="535.0" cy="258.9" r="6.6"/>
<circle class="B" cx="526.1" cy="271.1" r="6.6"/>
<circle class="B" cx="535.0" cy="273.3" r="6.6"/>
<circle class="B" cx="526.1" cy="284.4" r="6.6"/>
<circle class="G" cx="516.1" cy="288.9" r="6.6"/>
<circle class="B" cx="529.4" cy="294.4" r="6.6"/>
<circle class="G" cx="520.6" cy="300.0" r="6.6"/>
<circle class="B" cx="500.6" cy="295.6" r="6.6"/>
<circle class="G" cx="479.4" cy="291.1" r="6.6"/>
<circle class="B" cx="481.7" cy="298.9" r="6.6"/>
<circle class="G" cx="480.6" cy="308.9" r="6.6"/>
<circle class="G" cx="491.7" cy="311.1" r="6.6"/>
<circle class="B" cx="501.7" cy="308.9" r="6.6"/>
<circle class="B" cx="513.9" cy="305.6" r="6.6"/>
<circle class="G" cx="529.4" cy="313.3" r="6.6"/>
<circle class="G" cx="539.4" cy="317.8" r="6.6"/>
<circle class="G" cx="479.4" cy="333.3" r="6.6"/>
<circle class="B" cx="477.2" cy="324.4" r="6.6"/>
<circle class="B" cx="482.8" cy="326.7" r="6.6"/>
<circle class="B" cx="499.4" cy="325.6" r="6.6"/>
<circle class="B" cx="512.8" cy="326.7" r="6.6"/>
<circle class="G" cx="518.3" cy="335.6" r="6.6"/>
<circle class="B" cx="517.2" cy="342.2" r="6.6"/>
<circle class="B" cx="540.6" cy="288.9" r="6.6"/>
<circle class="G" cx="542.8" cy="277.8" r="6.6"/>
<circle class="B" cx="765.9" cy="165.6" r="6.6"/>
<circle class="B" cx="778.0" cy="168.1" r="6.6"/>
<circle class="B" cx="779.2" cy="174.1" r="6.6"/>
<circle class="B" cx="705.7" cy="181.3" r="6.6"/>
<circle class="B" cx="715.4" cy="176.5" r="6.6"/>
<circle class="B" cx="728.6" cy="176.5" r="6.6"/>
<circle class="B" cx="743.0" cy="174.1" r="6.6"/>
<circle class="B" cx="757.5" cy="178.9" r="6.6"/>
<circle class="B" cx="768.3" cy="178.9" r="6.6"/>
<circle class="G" cx="776.8" cy="181.3" r="6.6"/>
<circle class="G" cx="787.6" cy="182.5" r="6.6"/>
<circle class="G" cx="794.8" cy="189.7" r="6.6"/>
<circle class="B" cx="743.0" cy="184.9" r="6.6"/>
<circle class="G" cx="752.7" cy="189.7" r="6.6"/>
<circle class="G" cx="771.9" cy="190.9" r="6.6"/>
<circle class="G" cx="786.4" cy="193.3" r="6.6"/>
<circle class="B" cx="753.9" cy="200.6" r="6.6"/>
<circle class="B" cx="786.4" cy="200.6" r="6.6"/>
<circle class="G" cx="787.6" cy="211.4" r="6.6"/>
<circle class="B" cx="774.3" cy="207.8" r="6.6"/>
<circle class="G" cx="761.1" cy="205.4" r="6.6"/>
<circle class="B" cx="720.2" cy="188.5" r="6.6"/>
<circle class="G" cx="728.6" cy="193.3" r="6.6"/>
<circle class="B" cx="703.3" cy="198.1" r="6.6"/>
<circle class="B" cx="715.4" cy="201.8" r="6.6"/>
<circle class="B" cx="729.8" cy="206.6" r="6.6"/>
<circle class="G" cx="729.8" cy="215.0" r="6.6"/>
<circle class="B" cx="741.8" cy="218.6" r="6.6"/>
<circle class="G" cx="735.8" cy="227.0" r="6.6"/>
<circle class="G" cx="747.9" cy="227.0" r="6.6"/>
<circle class="G" cx="759.9" cy="228.2" r="6.6"/>
<circle class="G" cx="770.7" cy="222.2" r="6.6"/>
<circle class="G" cx="775.5" cy="234.3" r="6.6"/>
<circle class="G" cx="717.8" cy="230.6" r="6.6"/>
<circle class="B" cx="705.7" cy="227.0" r="6.6"/>
<circle class="B" cx="715.4" cy="239.1" r="6.6"/>
<circle class="G" cx="700.9" cy="235.5" r="6.6"/>
<circle class="G" cx="693.7" cy="203.0" r="6.6"/>
<circle class="B" cx="693.7" cy="215.0" r="6.6"/>
<circle class="B" cx="684.1" cy="210.2" r="6.6"/>
<circle class="B" cx="676.8" cy="212.6" r="6.6"/>
<circle class="G" cx="696.1" cy="223.4" r="6.6"/>
<circle class="B" cx="669.6" cy="192.1" r="6.6"/>
<circle class="B" cx="679.3" cy="199.4" r="6.6"/>
<circle class="B" cx="661.2" cy="198.1" r="6.6"/>
<circle class="B" cx="650.4" cy="199.4" r="6.6"/>
<circle class="B" cx="627.5" cy="201.8" r="6.6"/>
<circle class="B" cx="637.1" cy="210.2" r="6.6"/>
<circle class="G" cx="668.4" cy="205.4" r="6.6"/>
<circle class="B" cx="648.0" cy="218.6" r="6.6"/>
<circle class="B" cx="661.2" cy="216.2" r="6.6"/>
<circle class="G" cx="658.8" cy="228.2" r="6.6"/>
<circle class="B" cx="646.8" cy="234.3" r="6.6"/>
<circle class="G" cx="674.4" cy="230.6" r="6.6"/>
<circle class="G" cx="686.5" cy="230.6" r="6.6"/>
<circle class="B" cx="669.6" cy="243.9" r="6.6"/>
<circle class="G" cx="660.0" cy="246.3" r="6.6"/>
<circle class="G" cx="684.1" cy="241.5" r="6.6"/>
<circle class="B" cx="698.5" cy="247.5" r="6.6"/>
<circle class="B" cx="693.7" cy="261.9" r="6.6"/>
<circle class="G" cx="709.3" cy="260.7" r="6.6"/>
<circle class="B" cx="721.4" cy="253.5" r="6.6"/>
<circle class="B" cx="645.6" cy="252.3" r="6.6"/>
<circle class="G" cx="650.4" cy="259.5" r="6.6"/>
<circle class="B" cx="660.0" cy="255.9" r="6.6"/>
<circle class="G" cx="648.0" cy="271.6" r="6.6"/>
<circle class="G" cx="659.5" cy="275.2" r="6.6"/>
<circle class="G" cx="623.9" cy="217.4" r="6.6"/>
<circle class="G" cx="638.3" cy="227.0" r="6.6"/>
<circle class="G" cx="616.7" cy="236.7" r="6.6"/>
<circle class="B" cx="626.3" cy="235.5" r="6.6"/>
<circle class="G" cx="632.3" cy="245.1" r="6.6"/>
<circle class="B" cx="607.0" cy="248.7" r="6.6"/>
<circle class="G" cx="609.4" cy="260.7" r="6.6"/>
<circle class="G" cx="627.5" cy="259.5" r="6.6"/>
<circle class="G" cx="591.4" cy="261.9" r="6.6"/>
<circle class="B" cx="598.6" cy="272.8" r="6.6"/>
<circle class="G" cx="607.0" cy="272.8" r="6.6"/>
<circle class="G" cx="591.4" cy="288.4" r="6.6"/>
<circle class="G" cx="623.9" cy="289.6" r="6.6"/>
<circle class="G" cx="668.4" cy="305.3" r="6.6"/>
<circle class="B" cx="691.3" cy="296.8" r="6.6"/>
<circle class="G" cx="613.1" cy="316.1" r="6.6"/>
<circle class="G" cx="626.3" cy="318.5" r="6.6"/>
<circle class="B" cx="595.0" cy="212.6" r="6.6"/>
<circle class="B" cx="609.4" cy="215.0" r="6.6"/>
<circle class="B" cx="572.1" cy="219.8" r="6.6"/>
<circle class="B" cx="584.2" cy="225.8" r="6.6"/>
<circle class="B" cx="602.2" cy="233.1" r="6.6"/>
<circle class="G" cx="587.8" cy="239.1" r="6.6"/>
<circle class="G" cx="595.0" cy="239.1" r="6.6"/>
<circle class="G" cx="566.1" cy="248.7" r="6.6"/>
<circle class="B" cx="564.9" cy="268.0" r="6.6"/>
<circle class="G" cx="572.1" cy="278.8" r="6.6"/>
<circle class="B" cx="567.3" cy="289.6" r="6.6"/>
<circle class="G" cx="557.7" cy="298.1" r="6.6"/>
<circle class="G" cx="574.5" cy="302.9" r="6.6"/>
<circle class="B" cx="546.9" cy="227.0" r="6.6"/>
<circle class="B" cx="551.7" cy="239.1" r="6.6"/>
<circle class="B" cx="548.1" cy="252.3" r="6.6"/>
<circle class="B" cx="549.3" cy="263.1" r="6.6"/>
<circle class="G" cx="549.3" cy="286.0" r="6.6"/>
<circle class="G" cx="563.7" cy="229.4" r="6.6"/>
<circle class="B" cx="576.9" cy="231.8" r="6.6"/>
<circle class="B" cx="396.7" cy="236.2" r="6.6"/>
<circle class="B" cx="343.0" cy="238.1" r="6.6"/>
<circle class="B" cx="361.5" cy="241.8" r="6.6"/>
<circle class="G" cx="376.3" cy="239.9" r="6.6"/>
<circle class="B" cx="391.7" cy="241.8" r="6.6"/>
<circle class="B" cx="402.8" cy="249.2" r="6.6"/>
<circle class="G" cx="425.1" cy="244.3" r="6.6"/>
<circle class="G" cx="415.8" cy="255.4" r="6.6"/>
<circle class="B" cx="343.6" cy="254.8" r="6.6"/>
<circle class="G" cx="355.3" cy="253.5" r="6.6"/>
<circle class="B" cx="346.7" cy="262.8" r="6.6"/>
<circle class="B" cx="362.7" cy="259.7" r="6.6"/>
<circle class="G" cx="350.4" cy="272.0" r="6.6"/>
<circle class="B" cx="360.2" cy="271.4" r="6.6"/>
<circle class="B" cx="391.7" cy="260.9" r="6.6"/>
<circle class="B" cx="383.1" cy="263.4" r="6.6"/>
<circle class="G" cx="369.5" cy="270.8" r="6.6"/>
<circle class="B" cx="384.3" cy="270.8" r="6.6"/>
<circle class="B" cx="375.1" cy="275.7" r="6.6"/>
<circle class="G" cx="381.9" cy="284.4" r="6.6"/>
<circle class="B" cx="389.3" cy="280.1" r="6.6"/>
<circle class="G" cx="389.3" cy="288.7" r="6.6"/>
<circle class="B" cx="396.7" cy="277.0" r="6.6"/>
<circle class="G" cx="405.3" cy="299.2" r="6.6"/>
<circle class="B" cx="407.8" cy="280.7" r="6.6"/>
<circle class="B" cx="403.5" cy="290.6" r="6.6"/>
<circle class="G" cx="417.0" cy="270.2" r="6.6"/>
<circle class="B" cx="430.0" cy="265.9" r="6.6"/>
<circle class="B" cx="417.7" cy="280.7" r="6.6"/>
<circle class="B" cx="426.3" cy="285.6" r="6.6"/>
<circle class="G" cx="417.7" cy="305.4" r="6.6"/>
<circle class="B" cx="417.7" cy="295.5" r="6.6"/>
<circle class="B" cx="432.5" cy="274.5" r="6.6"/>
<circle class="B" cx="437.4" cy="252.3" r="6.6"/>
<circle class="B" cx="446.0" cy="248.6" r="6.6"/>
<circle class="B" cx="449.8" cy="253.5" r="6.6"/>
<circle class="B" cx="457.2" cy="259.7" r="6.6"/>
<circle class="B" cx="449.8" cy="267.7" r="6.6"/>
<circle class="B" cx="451.6" cy="274.5" r="6.6"/>
<circle class="B" cx="438.6" cy="285.6" r="6.6"/>
<circle class="G" cx="458.4" cy="280.7" r="6.6"/>
<circle class="B" cx="449.8" cy="291.8" r="6.6"/>
<circle class="B" cx="438.6" cy="295.5" r="6.6"/>
<circle class="G" cx="428.8" cy="309.1" r="6.6"/>
<circle class="B" cx="430.0" cy="301.7" r="6.6"/>
<circle class="B" cx="440.5" cy="309.1" r="6.6"/>
<circle class="G" cx="457.2" cy="304.1" r="6.6"/>
<circle class="B" cx="448.5" cy="301.7" r="6.6"/>
<circle class="B" cx="458.4" cy="289.3" r="6.6"/>
<circle class="G" cx="452.2" cy="317.7" r="6.6"/>
<circle class="G" cx="500.5" cy="226.2" r="6.6"/>
<circle class="B" cx="500.5" cy="234.9" r="6.6"/>
<circle class="G" cx="509.1" cy="238.6" r="6.6"/>
<circle class="G" cx="512.2" cy="244.8" r="6.6"/>
<circle class="B" cx="522.1" cy="244.1" r="6.6"/>
<circle class="B" cx="537.5" cy="226.9" r="6.6"/>
<circle class="B" cx="546.2" cy="228.7" r="6.6"/>
<circle class="B" cx="537.5" cy="236.1" r="6.6"/>
<circle class="B" cx="551.1" cy="238.0" r="6.6"/>
<circle class="G" cx="536.3" cy="243.5" r="6.6"/>
<circle class="B" cx="547.4" cy="251.5" r="6.6"/>
<circle class="G" cx="564.7" cy="229.9" r="6.6"/>
<circle class="G" cx="564.7" cy="248.5" r="6.6"/>
<circle class="B" cx="443.7" cy="245.4" r="6.6"/>
<circle class="B" cx="450.5" cy="251.5" r="6.6"/>
<circle class="B" cx="460.4" cy="249.7" r="6.6"/>
<circle class="G" cx="470.9" cy="251.5" r="6.6"/>
<circle class="B" cx="482.0" cy="245.4" r="6.6"/>
<circle class="B" cx="487.5" cy="248.5" r="6.6"/>
<circle class="B" cx="498.0" cy="253.4" r="6.6"/>
<circle class="G" cx="504.2" cy="255.2" r="6.6"/>
<circle class="B" cx="459.1" cy="260.8" r="6.6"/>
<circle class="B" cx="471.5" cy="263.3" r="6.6"/>
<circle class="B" cx="480.7" cy="267.0" r="6.6"/>
<circle class="B" cx="449.3" cy="267.6" r="6.6"/>
<circle class="B" cx="451.7" cy="274.4" r="6.6"/>
<circle class="G" cx="466.5" cy="271.9" r="6.6"/>
<circle class="G" cx="460.4" cy="281.2" r="6.6"/>
<circle class="B" cx="472.7" cy="281.2" r="6.6"/>
<circle class="B" cx="512.2" cy="268.8" r="6.6"/>
<circle class="B" cx="526.4" cy="259.6" r="6.6"/>
<circle class="B" cx="534.4" cy="260.2" r="6.6"/>
<circle class="B" cx="549.3" cy="262.7" r="6.6"/>
<circle class="B" cx="563.5" cy="267.0" r="6.6"/>
<circle class="B" cx="525.2" cy="271.9" r="6.6"/>
<circle class="B" cx="535.1" cy="272.5" r="6.6"/>
<circle class="G" cx="548.6" cy="271.9" r="6.6"/>
<circle class="G" cx="567.2" cy="276.9" r="6.6"/>
<circle class="G" cx="504.2" cy="282.4" r="6.6"/>
<circle class="G" cx="516.5" cy="288.0" r="6.6"/>
<circle class="B" cx="525.2" cy="283.6" r="6.6"/>
<circle class="B" cx="530.1" cy="294.1" r="6.6"/>
<circle class="B" cx="540.0" cy="290.4" r="6.6"/>
<circle class="G" cx="548.6" cy="285.5" r="6.6"/>
<circle class="G" cx="557.3" cy="298.5" r="6.6"/>
<circle class="B" cx="565.9" cy="289.8" r="6.6"/>
<circle class="G" cx="569.0" cy="301.5" r="6.6"/>
<circle class="B" cx="441.9" cy="285.5" r="6.6"/>
<circle class="B" cx="450.5" cy="292.3" r="6.6"/>
<circle class="B" cx="461.6" cy="292.3" r="6.6"/>
<circle class="B" cx="444.9" cy="301.5" r="6.6"/>
<circle class="B" cx="442.5" cy="309.0" r="6.6"/>
<circle class="G" cx="459.8" cy="305.2" r="6.6"/>
<circle class="G" cx="452.3" cy="317.6" r="6.6"/>
<circle class="B" cx="475.8" cy="296.6" r="6.6"/>
<circle class="B" cx="482.0" cy="299.1" r="6.6"/>
<circle class="G" cx="480.7" cy="310.2" r="6.6"/>
<circle class="G" cx="490.0" cy="311.4" r="6.6"/>
<circle class="B" cx="501.1" cy="296.0" r="6.6"/>
<circle class="B" cx="501.7" cy="309.0" r="6.6"/>
<circle class="B" cx="514.1" cy="305.2" r="6.6"/>
<circle class="G" cx="519.0" cy="298.5" r="6.6"/>
<circle class="G" cx="530.1" cy="313.9" r="6.6"/>
<circle class="G" cx="540.6" cy="317.0" r="6.6"/>
<circle class="B" cx="477.0" cy="322.5" r="6.6"/>
<circle class="B" cx="499.3" cy="322.5" r="6.6"/>
<circle class="B" cx="669.9" cy="192.3" r="6.6"/>
<circle class="B" cx="650.1" cy="199.1" r="6.6"/>
<circle class="B" cx="660.6" cy="199.7" r="6.6"/>
<circle class="B" cx="678.5" cy="199.7" r="6.6"/>
<circle class="G" cx="668.6" cy="205.9" r="6.6"/>
<circle class="B" cx="645.2" cy="204.6" r="6.6"/>
<circle class="B" cx="626.7" cy="202.2" r="6.6"/>
<circle class="B" cx="635.3" cy="210.2" r="6.6"/>
<circle class="B" cx="594.6" cy="212.0" r="6.6"/>
<circle class="B" cx="610.0" cy="214.5" r="6.6"/>
<circle class="G" cx="623.6" cy="217.6" r="6.6"/>
<circle class="B" cx="572.3" cy="218.8" r="6.6"/>
<circle class="B" cx="584.1" cy="225.0" r="6.6"/>
<circle class="B" cx="598.3" cy="223.8" r="6.6"/>
<circle class="G" cx="564.3" cy="229.9" r="6.6"/>
<circle class="B" cx="574.8" cy="232.4" r="6.6"/>
<circle class="B" cx="601.4" cy="233.6" r="6.6"/>
<circle class="B" cx="582.2" cy="239.8" r="6.6"/>
<circle class="G" cx="593.3" cy="239.2" r="6.6"/>
<circle class="G" cx="616.8" cy="237.3" r="6.6"/>
<circle class="B" cx="628.5" cy="233.0" r="6.6"/>
<circle class="B" cx="625.4" cy="242.9" r="6.6"/>
<circle class="G" cx="631.6" cy="244.8" r="6.6"/>
<circle class="B" cx="648.9" cy="218.2" r="6.6"/>
<circle class="B" cx="660.6" cy="216.4" r="6.6"/>
<circle class="B" cx="676.7" cy="211.4" r="6.6"/>
<circle class="B" cx="685.9" cy="210.8" r="6.6"/>
<circle class="G" cx="637.8" cy="228.1" r="6.6"/>
<circle class="G" cx="658.8" cy="228.7" r="6.6"/>
<circle class="B" cx="646.4" cy="234.9" r="6.6"/>
<circle class="G" cx="676.0" cy="223.8" r="6.6"/>
<circle class="G" cx="674.8" cy="231.8" r="6.6"/>
<circle class="G" cx="684.7" cy="230.6" r="6.6"/>
<circle class="G" cx="683.5" cy="241.7" r="6.6"/>
<circle class="B" cx="668.6" cy="244.8" r="6.6"/>
<circle class="G" cx="658.8" cy="245.4" r="6.6"/>
<circle class="B" cx="561.2" cy="236.7" r="6.6"/>
<circle class="G" cx="566.2" cy="248.5" r="6.6"/>
<circle class="B" cx="606.9" cy="249.1" r="6.6"/>
<circle class="G" cx="590.9" cy="262.7" r="6.6"/>
<circle class="G" cx="608.8" cy="260.2" r="6.6"/>
<circle class="G" cx="627.3" cy="259.6" r="6.6"/>
<circle class="B" cx="645.2" cy="252.8" r="6.6"/>
<circle class="B" cx="660.0" cy="256.5" r="6.6"/>
<circle class="G" cx="648.9" cy="260.2" r="6.6"/>
<circle class="G" cx="661.2" cy="262.7" r="6.6"/>
<circle class="G" cx="563.7" cy="256.5" r="6.6"/>
<circle class="B" cx="564.9" cy="266.4" r="6.6"/>
<circle class="G" cx="646.4" cy="270.1" r="6.6"/>
<circle class="G" cx="658.8" cy="270.7" r="6.6"/>
<circle class="B" cx="597.0" cy="271.3" r="6.6"/>
<circle class="G" cx="606.9" cy="271.3" r="6.6"/>
<circle class="B" cx="688.4" cy="262.7" r="6.6"/>
<circle class="B" cx="765.8" cy="165.4" r="6.6"/>
<circle class="B" cx="778.8" cy="166.0" r="6.6"/>
<circle class="B" cx="778.8" cy="172.2" r="6.6"/>
<circle class="B" cx="705.9" cy="180.9" r="6.6"/>
<circle class="B" cx="715.8" cy="176.5" r="6.6"/>
<circle class="B" cx="728.1" cy="176.5" r="6.6"/>
<circle class="B" cx="743.0" cy="174.1" r="6.6"/>
<circle class="B" cx="757.8" cy="179.6" r="6.6"/>
<circle class="B" cx="767.7" cy="180.2" r="6.6"/>
<circle class="G" cx="776.3" cy="181.5" r="6.6"/>
<circle class="G" cx="786.8" cy="182.7" r="6.6"/>
<circle class="G" cx="794.8" cy="189.5" r="6.6"/>
<circle class="B" cx="742.3" cy="184.6" r="6.6"/>
<circle class="B" cx="720.7" cy="189.5" r="6.6"/>
<circle class="G" cx="709.6" cy="192.6" r="6.6"/>
<circle class="G" cx="728.8" cy="193.8" r="6.6"/>
<circle class="G" cx="752.8" cy="190.1" r="6.6"/>
<circle class="G" cx="771.4" cy="191.4" r="6.6"/>
<circle class="G" cx="786.8" cy="193.2" r="6.6"/>
<circle class="B" cx="702.8" cy="198.8" r="6.6"/>
<circle class="B" cx="715.2" cy="202.5" r="6.6"/>
<circle class="B" cx="735.6" cy="203.1" r="6.6"/>
<circle class="B" cx="754.1" cy="201.2" r="6.6"/>
<circle class="B" cx="786.2" cy="201.9" r="6.6"/>
<circle class="B" cx="681.9" cy="200.6" r="6.6"/>
<circle class="G" cx="693.6" cy="204.3" r="6.6"/>
<circle class="B" cx="687.4" cy="210.5" r="6.6"/>
<circle class="B" cx="692.3" cy="216.0" r="6.6"/>
<circle class="B" cx="709.6" cy="209.9" r="6.6"/>
<circle class="B" cx="725.7" cy="210.5" r="6.6"/>
<circle class="G" cx="730.6" cy="214.8" r="6.6"/>
<circle class="B" cx="743.0" cy="217.9" r="6.6"/>
<circle class="G" cx="743.0" cy="208.0" r="6.6"/>
<circle class="B" cx="756.5" cy="210.5" r="6.6"/>
<circle class="B" cx="773.8" cy="209.3" r="6.6"/>
<circle class="G" cx="788.0" cy="211.7" r="6.6"/>
<circle class="G" cx="696.0" cy="224.1" r="6.6"/>
<circle class="B" cx="704.7" cy="225.3" r="6.6"/>
<circle class="B" cx="709.6" cy="230.2" r="6.6"/>
<circle class="G" cx="718.3" cy="230.9" r="6.6"/>
<circle class="B" cx="724.4" cy="223.5" r="6.6"/>
<circle class="G" cx="686.2" cy="230.2" r="6.6"/>
<circle class="G" cx="701.0" cy="236.4" r="6.6"/>
<circle class="B" cx="715.8" cy="240.1" r="6.6"/>
<circle class="G" cx="736.2" cy="227.2" r="6.6"/>
<circle class="G" cx="746.7" cy="227.2" r="6.6"/>
<circle class="G" cx="754.1" cy="225.3" r="6.6"/>
<circle class="G" cx="760.9" cy="229.0" r="6.6"/>
<circle class="G" cx="771.4" cy="221.6" r="6.6"/>
<circle class="G" cx="775.7" cy="234.6" r="6.6"/>
<circle class="G" cx="683.7" cy="241.4" r="6.6"/>
<circle class="B" cx="697.3" cy="246.3" r="6.6"/>
<rect x="327.3" y="60.5" width="338.2" height="85.30000000000001" fill="#fff" stroke="#000" stroke-width="1.6"/>
<circle cx="366.8" cy="76.6" r="6.7" fill="#77ac30" stroke="#111" stroke-width="2.1"/>
<text x="406.5" y="85.8" text-anchor="start" font-size="19.8" fill="#000" >до падения напряжения</text>
<circle cx="366.8" cy="103.3" r="6.7" fill="#4b4bd6" stroke="#111" stroke-width="2.1"/>
<text x="406.5" y="112.0" text-anchor="start" font-size="19.8" fill="#000" >после падения напряжения</text>
<circle cx="366.8" cy="130.4" r="6.7" fill="#d95319" stroke="#111" stroke-width="2.1"/>
<text x="406.5" y="138.3" text-anchor="start" font-size="19.8" fill="#000" >при падении напряжения</text>
<text x="525.4" y="768.5" text-anchor="middle" font-size="45.5" font-weight="bold" font-family="Liberation Serif, serif" fill="#000">(а)</text>
<line x1="1185.3" y1="500.4" x2="1594.9" y2="389.2" stroke="#e0e0e0" stroke-width="1.3"/>
<line x1="1342.3" y1="573.2" x2="1751.9" y2="462.0" stroke="#e0e0e0" stroke-width="1.3"/>
<line x1="1499.3" y1="646.0" x2="1908.9" y2="534.8" stroke="#e0e0e0" stroke-width="1.3"/>
<line x1="1287.7" y1="472.6" x2="1601.7" y2="618.2" stroke="#e0e0e0" stroke-width="1.3"/>
<line x1="1390.1" y1="444.8" x2="1704.1" y2="590.4" stroke="#e0e0e0" stroke-width="1.3"/>
<line x1="1492.5" y1="417.0" x2="1806.5" y2="562.6" stroke="#e0e0e0" stroke-width="1.3"/>
<line x1="1594.9" y1="389.2" x2="1908.9" y2="534.8" stroke="#e0e0e0" stroke-width="1.3"/>
<line x1="1185.3" y1="442.1" x2="1594.9" y2="330.9" stroke="#e0e0e0" stroke-width="1.3"/>
<line x1="1594.9" y1="330.9" x2="1908.9" y2="476.5" stroke="#e0e0e0" stroke-width="1.3"/>
<line x1="1185.3" y1="383.8" x2="1594.9" y2="272.6" stroke="#e0e0e0" stroke-width="1.3"/>
<line x1="1594.9" y1="272.6" x2="1908.9" y2="418.2" stroke="#e0e0e0" stroke-width="1.3"/>
<line x1="1185.3" y1="325.5" x2="1594.9" y2="214.3" stroke="#e0e0e0" stroke-width="1.3"/>
<line x1="1594.9" y1="214.3" x2="1908.9" y2="359.9" stroke="#e0e0e0" stroke-width="1.3"/>
<line x1="1185.3" y1="267.2" x2="1594.9" y2="156.0" stroke="#e0e0e0" stroke-width="1.3"/>
<line x1="1594.9" y1="156.0" x2="1908.9" y2="301.6" stroke="#e0e0e0" stroke-width="1.3"/>
<line x1="1185.3" y1="208.9" x2="1594.9" y2="97.7" stroke="#e0e0e0" stroke-width="1.3"/>
<line x1="1594.9" y1="97.7" x2="1908.9" y2="243.3" stroke="#e0e0e0" stroke-width="1.3"/>
<line x1="1287.5" y1="472.6" x2="1287.5" y2="153.3" stroke="#e0e0e0" stroke-width="1.3"/>
<line x1="1390.5" y1="444.8" x2="1390.5" y2="125.5" stroke="#e0e0e0" stroke-width="1.3"/>
<line x1="1492.5" y1="417.0" x2="1492.5" y2="97.7" stroke="#e0e0e0" stroke-width="1.3"/>
<line x1="1594.5" y1="389.2" x2="1594.5" y2="69.9" stroke="#e0e0e0" stroke-width="1.3"/>
<line x1="1751.5" y1="462.0" x2="1751.5" y2="142.7" stroke="#e0e0e0" stroke-width="1.3"/>
<line x1="1908.5" y1="534.8" x2="1908.5" y2="215.5" stroke="#e0e0e0" stroke-width="1.3"/>
<line x1="1185.3" y1="500.4" x2="1185.3" y2="181.1" stroke="#141414" stroke-width="1.1"/>
<line x1="1185.3" y1="500.4" x2="1175.8" y2="496.0" stroke="#262626" stroke-width="1.1"/>
<text x="1165.8" y="501.7" text-anchor="end" font-size="22" fill="#262626" >0</text>
<line x1="1185.3" y1="442.1" x2="1175.8" y2="437.7" stroke="#262626" stroke-width="1.1"/>
<text x="1165.8" y="443.4" text-anchor="end" font-size="22" fill="#262626" >2</text>
<line x1="1185.3" y1="383.8" x2="1175.8" y2="379.4" stroke="#262626" stroke-width="1.1"/>
<text x="1165.8" y="385.1" text-anchor="end" font-size="22" fill="#262626" >4</text>
<line x1="1185.3" y1="325.5" x2="1175.8" y2="321.1" stroke="#262626" stroke-width="1.1"/>
<text x="1165.8" y="326.8" text-anchor="end" font-size="22" fill="#262626" >6</text>
<line x1="1185.3" y1="267.2" x2="1175.8" y2="262.8" stroke="#262626" stroke-width="1.1"/>
<text x="1165.8" y="268.5" text-anchor="end" font-size="22" fill="#262626" >8</text>
<line x1="1185.3" y1="208.9" x2="1175.8" y2="204.5" stroke="#262626" stroke-width="1.1"/>
<text x="1165.8" y="210.2" text-anchor="end" font-size="22" fill="#262626" >10</text>
<line x1="1185.3" y1="500.4" x2="1175.2" y2="503.2" stroke="#262626" stroke-width="1.1"/>
<text x="1165.8" y="529.9" text-anchor="end" font-size="22" fill="#262626" >0</text>
<line x1="1342.3" y1="573.2" x2="1332.2" y2="576.0" stroke="#262626" stroke-width="1.1"/>
<text x="1322.8" y="602.7" text-anchor="end" font-size="22" fill="#262626" >-0.005</text>
<line x1="1499.3" y1="646.0" x2="1489.2" y2="648.8" stroke="#262626" stroke-width="1.1"/>
<text x="1479.8" y="675.5" text-anchor="end" font-size="22" fill="#262626" >-0.01</text>
<line x1="1499.3" y1="646.0" x2="1508.8" y2="650.4" stroke="#262626" stroke-width="1.1"/>
<text x="1517.5" y="677.5" text-anchor="start" font-size="22" fill="#262626" stroke="#262626" stroke-width="1.1">-4</text>
<line x1="1601.7" y1="618.2" x2="1611.2" y2="622.6" stroke="#262626" stroke-width="1.1"/>
<text x="1619.9" y="649.7" text-anchor="start" font-size="22" fill="#262626" >-3</text>
<line x1="1704.1" y1="590.4" x2="1713.6" y2="594.8" stroke="#262626" stroke-width="1.1"/>
<text x="1722.3" y="621.9" text-anchor="start" font-size="22" fill="#262626" >-2</text>
<line x1="1806.5" y1="562.6" x2="1816.0" y2="567.0" stroke="#262626" stroke-width="1.1"/>
<text x="1824.7" y="594.1" text-anchor="start" font-size="22" fill="#262626" >-1</text>
<line x1="1908.9" y1="534.8" x2="1918.4" y2="539.2" stroke="#262626" stroke-width="1.1"/>
<text x="1927.1" y="566.3" text-anchor="start" font-size="22" fill="#262626" >0</text>
<line x1="1185.3" y1="500.4" x2="1499.3" y2="646.0" stroke="#262626" stroke-width="1.1"/>
<line x1="1499.3" y1="646.0" x2="1908.9" y2="534.8" stroke="#262626" stroke-width="1.1"/>
<path d="M1122.0,135.0L1132.8,145.8M1132.8,135.0L1122.0,145.8" stroke="#333" stroke-width="1.15" fill="none"/>
<text x="1160.3" y="145.9" text-anchor="end" font-size="22" fill="#262626" >10</text>
<text x="1161.8" y="134.8" text-anchor="start" font-size="17" fill="#262626" >-3</text>
<circle class="O" cx="1550.6" cy="515.0" r="6.6"/>
<circle class="O" cx="1549.7" cy="510.5" r="6.6"/>
<circle class="O" cx="1546.2" cy="504.7" r="6.6"/>
<circle class="O" cx="1648.3" cy="519.4" r="6.6"/>
<circle class="O" cx="1802.2" cy="439.6" r="6.6"/>
<circle class="O" cx="1828.0" cy="451.3" r="6.6"/>
<circle class="O" cx="1564.5" cy="515.9" r="6.6"/>
<circle class="O" cx="1542.0" cy="482.5" r="6.6"/>
<circle class="O" cx="1768.2" cy="463.7" r="6.6"/>
<circle class="O" cx="1785.3" cy="492.5" r="6.6"/>
<circle class="O" cx="1561.1" cy="511.9" r="6.6"/>
<circle class="O" cx="1829.4" cy="460.7" r="6.6"/>
<circle class="O" cx="1548.8" cy="507.7" r="6.6"/>
<circle class="O" cx="1826.9" cy="475.1" r="6.6"/>
<circle class="O" cx="1678.9" cy="510.0" r="6.6"/>
<circle class="O" cx="1534.6" cy="511.9" r="6.6"/>
<circle class="O" cx="1767.7" cy="446.9" r="6.6"/>
<circle class="O" cx="1773.1" cy="470.8" r="6.6"/>
<circle class="O" cx="1751.7" cy="467.8" r="6.6"/>
<circle class="O" cx="1837.3" cy="462.2" r="6.6"/>
<circle class="O" cx="1559.4" cy="506.7" r="6.6"/>
<circle class="O" cx="1696.1" cy="471.7" r="6.6"/>
<circle class="O" cx="1515.4" cy="478.4" r="6.6"/>
<circle class="O" cx="1569.1" cy="528.5" r="6.6"/>
<circle class="O" cx="1549.1" cy="495.6" r="6.6"/>
<circle class="O" cx="1752.9" cy="434.9" r="6.6"/>
<circle class="O" cx="1537.5" cy="513.7" r="6.6"/>
<circle class="O" cx="1561.3" cy="511.7" r="6.6"/>
<circle class="O" cx="1578.4" cy="518.2" r="6.6"/>
<circle class="O" cx="1554.6" cy="508.1" r="6.6"/>
<circle class="O" cx="1720.6" cy="518.0" r="6.6"/>
<circle class="O" cx="1750.9" cy="447.3" r="6.6"/>
<circle class="O" cx="1554.7" cy="508.9" r="6.6"/>
<circle class="O" cx="1753.3" cy="508.7" r="6.6"/>
<circle class="O" cx="1569.2" cy="529.1" r="6.6"/>
<circle class="O" cx="1593.9" cy="539.4" r="6.6"/>
<circle class="O" cx="1637.1" cy="502.1" r="6.6"/>
<circle class="O" cx="1775.4" cy="481.1" r="6.6"/>
<circle class="O" cx="1563.9" cy="516.1" r="6.6"/>
<circle class="O" cx="1524.1" cy="500.7" r="6.6"/>
<circle class="O" cx="1564.5" cy="516.0" r="6.6"/>
<circle class="O" cx="1774.0" cy="441.4" r="6.6"/>
<circle class="O" cx="1561.4" cy="511.9" r="6.6"/>
<circle class="O" cx="1557.1" cy="498.7" r="6.6"/>
<circle class="O" cx="1757.2" cy="425.4" r="6.6"/>
<circle class="O" cx="1529.0" cy="478.7" r="6.6"/>
<circle class="O" cx="1520.8" cy="470.0" r="6.6"/>
<circle class="O" cx="1583.7" cy="504.6" r="6.6"/>
<circle class="O" cx="1560.8" cy="512.3" r="6.6"/>
<circle class="O" cx="1828.6" cy="469.5" r="6.6"/>
<circle class="O" cx="1827.9" cy="470.1" r="6.6"/>
<circle class="O" cx="1583.5" cy="504.4" r="6.6"/>
<circle class="O" cx="1584.7" cy="515.5" r="6.6"/>
<circle class="O" cx="1718.9" cy="506.7" r="6.6"/>
<circle class="O" cx="1785.0" cy="492.8" r="6.6"/>
<circle class="O" cx="1520.5" cy="466.6" r="6.6"/>
<circle class="O" cx="1535.7" cy="493.5" r="6.6"/>
<circle class="O" cx="1554.3" cy="508.3" r="6.6"/>
<circle class="O" cx="1541.9" cy="492.7" r="6.6"/>
<circle class="O" cx="1535.2" cy="511.9" r="6.6"/>
<circle class="O" cx="1713.2" cy="509.7" r="6.6"/>
<circle class="O" cx="1751.9" cy="468.6" r="6.6"/>
<circle class="O" cx="1539.3" cy="489.3" r="6.6"/>
<circle class="O" cx="1773.4" cy="470.7" r="6.6"/>
<circle class="O" cx="1756.7" cy="524.4" r="6.6"/>
<circle class="O" cx="1767.8" cy="456.8" r="6.6"/>
<circle class="O" cx="1511.4" cy="467.5" r="6.6"/>
<circle class="O" cx="1544.2" cy="512.0" r="6.6"/>
<circle class="O" cx="1761.1" cy="464.4" r="6.6"/>
<circle class="O" cx="1577.5" cy="522.1" r="6.6"/>
<circle class="O" cx="1568.9" cy="516.7" r="6.6"/>
<circle class="O" cx="1811.6" cy="434.6" r="6.6"/>
<circle class="O" cx="1647.2" cy="519.7" r="6.6"/>
<circle class="O" cx="1511.7" cy="467.6" r="6.6"/>
<circle class="O" cx="1585.1" cy="514.9" r="6.6"/>
<circle class="O" cx="1718.9" cy="506.9" r="6.6"/>
<circle class="O" cx="1533.0" cy="506.6" r="6.6"/>
<circle class="O" cx="1751.5" cy="467.8" r="6.6"/>
<circle class="O" cx="1706.4" cy="502.2" r="6.6"/>
<circle class="O" cx="1752.8" cy="508.9" r="6.6"/>
<circle class="O" cx="1576.6" cy="493.0" r="6.6"/>
<circle class="O" cx="1696.2" cy="472.0" r="6.6"/>
<circle class="O" cx="1804.5" cy="481.8" r="6.6"/>
<circle class="O" cx="1749.9" cy="461.4" r="6.6"/>
<circle class="O" cx="1567.0" cy="491.8" r="6.6"/>
<circle class="O" cx="1775.7" cy="459.7" r="6.6"/>
<circle class="O" cx="1761.7" cy="463.6" r="6.6"/>
<circle class="O" cx="1512.6" cy="450.0" r="6.6"/>
<circle class="O" cx="1503.6" cy="453.6" r="6.6"/>
<circle class="O" cx="1507.8" cy="463.6" r="6.6"/>
<circle class="O" cx="1515.2" cy="471.5" r="6.6"/>
<circle class="O" cx="1526.2" cy="468.3" r="6.6"/>
<circle class="O" cx="1524.6" cy="479.9" r="6.6"/>
<circle class="O" cx="1517.3" cy="485.1" r="6.6"/>
<circle class="O" cx="1534.1" cy="479.9" r="6.6"/>
<circle class="O" cx="1539.3" cy="476.7" r="6.6"/>
<circle class="O" cx="1553.0" cy="479.9" r="6.6"/>
<circle class="O" cx="1564.5" cy="465.2" r="6.6"/>
<circle class="O" cx="1590.8" cy="473.6" r="6.6"/>
<circle class="O" cx="1533.0" cy="488.3" r="6.6"/>
<circle class="O" cx="1544.6" cy="488.3" r="6.6"/>
<circle class="O" cx="1522.5" cy="495.6" r="6.6"/>
<circle class="O" cx="1561.4" cy="494.6" r="6.6"/>
<circle class="O" cx="1572.9" cy="488.3" r="6.6"/>
<circle class="O" cx="1580.3" cy="497.7" r="6.6"/>
<circle class="O" cx="1597.1" cy="489.3" r="6.6"/>
<circle class="O" cx="1596.0" cy="497.7" r="6.6"/>
<circle class="O" cx="1539.3" cy="507.2" r="6.6"/>
<circle class="O" cx="1538.3" cy="498.8" r="6.6"/>
<circle class="O" cx="1526.7" cy="505.1" r="6.6"/>
<circle class="O" cx="1553.0" cy="501.9" r="6.6"/>
<circle class="O" cx="1566.6" cy="509.3" r="6.6"/>
<circle class="O" cx="1587.6" cy="510.3" r="6.6"/>
<circle class="O" cx="1529.9" cy="516.6" r="6.6"/>
<circle class="O" cx="1544.6" cy="513.5" r="6.6"/>
<circle class="O" cx="1556.1" cy="514.5" r="6.6"/>
<circle class="O" cx="1574.0" cy="515.6" r="6.6"/>
<circle class="O" cx="1583.4" cy="519.8" r="6.6"/>
<circle class="O" cx="1563.5" cy="521.9" r="6.6"/>
<circle class="O" cx="1526.7" cy="506.1" r="6.6"/>
<circle class="O" cx="1531.1" cy="516.7" r="6.6"/>
<circle class="O" cx="1535.6" cy="527.8" r="6.6"/>
<circle class="O" cx="1545.6" cy="515.6" r="6.6"/>
<circle class="O" cx="1553.3" cy="503.3" r="6.6"/>
<circle class="O" cx="1555.6" cy="514.4" r="6.6"/>
<circle class="O" cx="1562.2" cy="522.2" r="6.6"/>
<circle class="O" cx="1565.6" cy="510.0" r="6.6"/>
<circle class="O" cx="1550.0" cy="532.2" r="6.6"/>
<circle class="O" cx="1572.2" cy="523.3" r="6.6"/>
<circle class="O" cx="1565.6" cy="533.3" r="6.6"/>
<circle class="O" cx="1568.9" cy="542.2" r="6.6"/>
<circle class="O" cx="1572.8" cy="551.1" r="6.6"/>
<circle class="O" cx="1580.0" cy="502.2" r="6.6"/>
<circle class="O" cx="1586.7" cy="511.1" r="6.6"/>
<circle class="O" cx="1583.3" cy="521.1" r="6.6"/>
<circle class="O" cx="1600.0" cy="501.1" r="6.6"/>
<circle class="O" cx="1594.4" cy="534.4" r="6.6"/>
<circle class="O" cx="1593.3" cy="544.4" r="6.6"/>
<circle class="O" cx="1593.3" cy="555.6" r="6.6"/>
<circle class="O" cx="1602.2" cy="558.9" r="6.6"/>
<circle class="O" cx="1601.1" cy="568.9" r="6.6"/>
<circle class="O" cx="1607.8" cy="574.4" r="6.6"/>
<circle class="O" cx="1608.9" cy="515.6" r="6.6"/>
<circle class="O" cx="1610.0" cy="522.2" r="6.6"/>
<circle class="O" cx="1618.9" cy="531.1" r="6.6"/>
<circle class="O" cx="1620.0" cy="538.9" r="6.6"/>
<circle class="O" cx="1621.1" cy="546.7" r="6.6"/>
<circle class="O" cx="1631.1" cy="566.7" r="6.6"/>
<circle class="O" cx="1638.9" cy="501.1" r="6.6"/>
<circle class="O" cx="1636.7" cy="508.9" r="6.6"/>
<circle class="O" cx="1644.4" cy="514.4" r="6.6"/>
<circle class="O" cx="1640.0" cy="527.8" r="6.6"/>
<circle class="O" cx="1645.6" cy="536.7" r="6.6"/>
<circle class="O" cx="1642.2" cy="496.7" r="6.6"/>
<circle class="O" cx="1646.7" cy="513.3" r="6.6"/>
<circle class="O" cx="1650.0" cy="525.6" r="6.6"/>
<circle class="O" cx="1648.9" cy="535.6" r="6.6"/>
<circle class="O" cx="1672.2" cy="506.7" r="6.6"/>
<circle class="O" cx="1676.7" cy="505.6" r="6.6"/>
<circle class="O" cx="1675.6" cy="518.9" r="6.6"/>
<circle class="O" cx="1685.6" cy="513.3" r="6.6"/>
<circle class="O" cx="1690.0" cy="523.3" r="6.6"/>
<circle class="O" cx="1683.3" cy="531.1" r="6.6"/>
<circle class="O" cx="1688.9" cy="535.6" r="6.6"/>
<circle class="O" cx="1694.4" cy="465.6" r="6.6"/>
<circle class="O" cx="1697.8" cy="477.8" r="6.6"/>
<circle class="O" cx="1708.9" cy="485.6" r="6.6"/>
<circle class="O" cx="1706.7" cy="497.8" r="6.6"/>
<circle class="O" cx="1715.6" cy="502.2" r="6.6"/>
<circle class="O" cx="1705.6" cy="507.8" r="6.6"/>
<circle class="O" cx="1722.2" cy="511.1" r="6.6"/>
<circle class="O" cx="1711.1" cy="516.7" r="6.6"/>
<circle class="O" cx="1718.9" cy="524.4" r="6.6"/>
<circle class="O" cx="1724.4" cy="535.6" r="6.6"/>
<circle class="O" cx="1732.2" cy="465.6" r="6.6"/>
<circle class="O" cx="1731.1" cy="476.7" r="6.6"/>
<circle class="O" cx="1734.4" cy="483.3" r="6.6"/>
<circle class="O" cx="1741.1" cy="488.9" r="6.6"/>
<circle class="O" cx="1750.0" cy="497.8" r="6.6"/>
<circle class="O" cx="1748.9" cy="505.6" r="6.6"/>
<circle class="O" cx="1756.7" cy="512.2" r="6.6"/>
<circle class="O" cx="1757.8" cy="517.8" r="6.6"/>
<circle class="O" cx="1755.6" cy="531.1" r="6.6"/>
<circle class="O" cx="1748.9" cy="455.6" r="6.6"/>
<circle class="O" cx="1746.7" cy="466.7" r="6.6"/>
<circle class="O" cx="1756.7" cy="468.9" r="6.6"/>
<circle class="O" cx="1765.6" cy="460.0" r="6.6"/>
<circle class="O" cx="1772.2" cy="452.2" r="6.6"/>
<circle class="O" cx="1772.2" cy="466.7" r="6.6"/>
<circle class="O" cx="1773.3" cy="475.6" r="6.6"/>
<circle class="O" cx="1774.4" cy="487.8" r="6.6"/>
<circle class="O" cx="1778.9" cy="494.4" r="6.6"/>
<circle class="O" cx="1757.6" cy="419.1" r="6.6"/>
<circle class="O" cx="1751.7" cy="426.1" r="6.6"/>
<circle class="O" cx="1762.9" cy="424.4" r="6.6"/>
<circle class="O" cx="1742.3" cy="439.0" r="6.6"/>
<circle class="O" cx="1752.9" cy="440.2" r="6.6"/>
<circle class="O" cx="1762.3" cy="444.3" r="6.6"/>
<circle class="O" cx="1772.8" cy="448.4" r="6.6"/>
<circle class="O" cx="1778.7" cy="454.3" r="6.6"/>
<circle class="O" cx="1749.4" cy="455.4" r="6.6"/>
<circle class="O" cx="1763.5" cy="461.3" r="6.6"/>
<circle class="O" cx="1747.0" cy="468.3" r="6.6"/>
<circle class="O" cx="1756.4" cy="468.9" r="6.6"/>
<circle class="O" cx="1772.8" cy="466.0" r="6.6"/>
<circle class="O" cx="1774.0" cy="475.4" r="6.6"/>
<circle class="O" cx="1775.2" cy="434.3" r="6.6"/>
<circle class="O" cx="1782.2" cy="435.5" r="6.6"/>
<circle class="O" cx="1789.3" cy="437.8" r="6.6"/>
<circle class="O" cx="1795.1" cy="439.0" r="6.6"/>
<circle class="O" cx="1803.3" cy="435.5" r="6.6"/>
<circle class="O" cx="1809.2" cy="440.2" r="6.6"/>
<circle class="O" cx="1818.0" cy="433.7" r="6.6"/>
<circle class="O" cx="1822.1" cy="447.2" r="6.6"/>
<circle class="O" cx="1829.1" cy="446.1" r="6.6"/>
<circle class="O" cx="1833.8" cy="455.4" r="6.6"/>
<circle class="O" cx="1824.5" cy="464.8" r="6.6"/>
<circle class="O" cx="1840.9" cy="468.3" r="6.6"/>
<circle class="O" cx="1832.7" cy="474.2" r="6.6"/>
<circle class="O" cx="1824.5" cy="477.7" r="6.6"/>
<circle class="O" cx="1801.0" cy="478.9" r="6.6"/>
<circle class="O" cx="1809.2" cy="476.6" r="6.6"/>
<circle class="O" cx="1808.0" cy="484.8" r="6.6"/>
<circle class="O" cx="1775.2" cy="487.1" r="6.6"/>
<circle class="O" cx="1782.2" cy="488.3" r="6.6"/>
<circle class="O" cx="1789.3" cy="495.3" r="6.6"/>
<circle class="O" cx="1842.1" cy="494.1" r="6.6"/>
<circle class="O" cx="1817.4" cy="497.7" r="6.6"/>
<circle class="O" cx="1742.3" cy="488.3" r="6.6"/>
<circle class="O" cx="1750.6" cy="497.7" r="6.6"/>
<circle class="O" cx="1512.6" cy="449.8" r="6.6"/>
<circle class="O" cx="1503.7" cy="453.7" r="6.6"/>
<circle class="O" cx="1507.7" cy="463.6" r="6.6"/>
<circle class="O" cx="1525.5" cy="461.6" r="6.6"/>
<circle class="O" cx="1526.4" cy="468.5" r="6.6"/>
<circle class="O" cx="1515.6" cy="471.5" r="6.6"/>
<circle class="O" cx="1533.4" cy="477.4" r="6.6"/>
<circle class="O" cx="1539.3" cy="477.4" r="6.6"/>
<circle class="O" cx="1515.6" cy="485.3" r="6.6"/>
<circle class="O" cx="1533.4" cy="489.3" r="6.6"/>
<circle class="O" cx="1545.2" cy="489.3" r="6.6"/>
<circle class="O" cx="1553.1" cy="480.4" r="6.6"/>
<circle class="O" cx="1521.5" cy="495.2" r="6.6"/>
<circle class="O" cx="1539.3" cy="497.2" r="6.6"/>
<circle class="O" cx="1527.4" cy="505.1" r="6.6"/>
<circle class="O" cx="1543.2" cy="507.1" r="6.6"/>
<circle class="O" cx="1530.4" cy="514.0" r="6.6"/>
<circle class="O" cx="1545.2" cy="517.0" r="6.6"/>
<circle class="O" cx="1533.4" cy="520.9" r="6.6"/>
<circle class="O" cx="1535.3" cy="527.8" r="6.6"/>
<circle class="O" cx="1549.2" cy="531.8" r="6.6"/>
<circle class="O" cx="1553.1" cy="502.1" r="6.6"/>
<circle class="O" cx="1556.1" cy="514.0" r="6.6"/>
<circle class="O" cx="1561.0" cy="495.2" r="6.6"/>
<circle class="O" cx="1567.0" cy="509.1" r="6.6"/>
<circle class="O" cx="1562.0" cy="522.9" r="6.6"/>
<circle class="O" cx="1572.9" cy="488.3" r="6.6"/>
<circle class="O" cx="1580.8" cy="498.2" r="6.6"/>
<circle class="O" cx="1586.7" cy="510.0" r="6.6"/>
<circle class="O" cx="1582.8" cy="520.9" r="6.6"/>
<circle class="O" cx="1572.9" cy="524.9" r="6.6"/>
<circle class="O" cx="1566.0" cy="533.8" r="6.6"/>
<circle class="O" cx="1568.9" cy="542.6" r="6.6"/>
<circle class="O" cx="1572.9" cy="550.6" r="6.6"/>
<circle class="O" cx="1565.0" cy="465.6" r="6.6"/>
<circle class="O" cx="1590.7" cy="474.5" r="6.6"/>
<circle class="O" cx="1600.6" cy="492.3" r="6.6"/>
<circle class="O" cx="1599.6" cy="497.2" r="6.6"/>
<circle class="O" cx="1592.6" cy="534.7" r="6.6"/>
<circle class="O" cx="1593.6" cy="544.6" r="6.6"/>
<circle class="O" cx="1594.6" cy="553.5" r="6.6"/>
<circle class="O" cx="1602.5" cy="558.5" r="6.6"/>
<circle class="O" cx="1600.6" cy="567.4" r="6.6"/>
<circle class="O" cx="1607.5" cy="574.3" r="6.6"/>
<circle class="O" cx="1609.4" cy="515.0" r="6.6"/>
<circle class="O" cx="1610.4" cy="521.9" r="6.6"/>
<circle class="O" cx="1618.3" cy="528.8" r="6.6"/>
<circle class="O" cx="1620.3" cy="538.7" r="6.6"/>
<circle class="O" cx="1621.3" cy="546.6" r="6.6"/>
<circle class="O" cx="1622.3" cy="477.4" r="6.6"/>
<circle class="O" cx="1625.3" cy="486.3" r="6.6"/>
<circle class="O" cx="1638.1" cy="497.2" r="6.6"/>
<circle class="O" cx="1636.1" cy="507.1" r="6.6"/>
<circle class="O" cx="1645.0" cy="513.0" r="6.6"/>
<circle class="O" cx="1650.0" cy="524.9" r="6.6"/>
<circle class="O" cx="1642.1" cy="528.8" r="6.6"/>
<circle class="O" cx="1650.0" cy="538.7" r="6.6"/>
<circle class="O" cx="1631.2" cy="567.4" r="6.6"/>
<circle class="O" cx="1671.9" cy="507.7" r="6.6"/>
<circle class="O" cx="1677.8" cy="506.7" r="6.6"/>
<circle class="O" cx="1685.7" cy="513.6" r="6.6"/>
<circle class="O" cx="1690.6" cy="524.5" r="6.6"/>
<circle class="O" cx="1681.7" cy="530.4" r="6.6"/>
<circle class="O" cx="1687.7" cy="536.3" r="6.6"/>
<circle class="O" cx="1694.6" cy="466.2" r="6.6"/>
<circle class="O" cx="1697.5" cy="478.0" r="6.6"/>
<circle class="O" cx="1708.4" cy="485.9" r="6.6"/>
<circle class="O" cx="1707.4" cy="496.8" r="6.6"/>
<circle class="O" cx="1705.4" cy="507.7" r="6.6"/>
<circle class="O" cx="1715.3" cy="502.7" r="6.6"/>
<circle class="O" cx="1722.2" cy="511.6" r="6.6"/>
<circle class="O" cx="1719.3" cy="523.5" r="6.6"/>
<circle class="O" cx="1724.2" cy="537.3" r="6.6"/>
<circle class="O" cx="1732.1" cy="465.2" r="6.6"/>
<circle class="O" cx="1731.1" cy="477.0" r="6.6"/>
<circle class="O" cx="1741.0" cy="488.9" r="6.6"/>
<circle class="O" cx="1739.0" cy="494.8" r="6.6"/>
<circle class="O" cx="1749.9" cy="504.7" r="6.6"/>
<circle class="O" cx="1756.8" cy="512.6" r="6.6"/>
<circle class="O" cx="1756.8" cy="518.5" r="6.6"/>
<circle class="O" cx="1754.8" cy="531.4" r="6.6"/>
<circle class="O" cx="1756.8" cy="419.8" r="6.6"/>
<circle class="O" cx="1752.8" cy="429.6" r="6.6"/>
<circle class="O" cx="1762.7" cy="424.7" r="6.6"/>
<circle class="O" cx="1738.0" cy="438.5" r="6.6"/>
<circle class="O" cx="1758.8" cy="435.6" r="6.6"/>
<circle class="O" cx="1744.9" cy="447.4" r="6.6"/>
<circle class="O" cx="1762.7" cy="444.4" r="6.6"/>
<circle class="O" cx="1772.6" cy="449.4" r="6.6"/>
<circle class="O" cx="1778.5" cy="453.3" r="6.6"/>
<circle class="O" cx="1748.9" cy="454.3" r="6.6"/>
<circle class="O" cx="1766.7" cy="458.3" r="6.6"/>
<circle class="O" cx="1750.9" cy="467.2" r="6.6"/>
<circle class="O" cx="1756.8" cy="469.1" r="6.6"/>
<circle class="O" cx="1773.6" cy="467.2" r="6.6"/>
<circle class="O" cx="1775.6" cy="475.1" r="6.6"/>
<circle class="O" cx="1778.5" cy="431.6" r="6.6"/>
<circle class="O" cx="1788.4" cy="434.6" r="6.6"/>
<circle class="O" cx="1798.3" cy="438.5" r="6.6"/>
<circle class="O" cx="1806.2" cy="435.6" r="6.6"/>
<circle class="O" cx="1817.1" cy="433.6" r="6.6"/>
<circle class="O" cx="1824.0" cy="442.5" r="6.6"/>
<circle class="O" cx="1829.9" cy="447.4" r="6.6"/>
<circle class="O" cx="1834.8" cy="456.3" r="6.6"/>
<circle class="O" cx="1824.0" cy="465.2" r="6.6"/>
<circle class="O" cx="1839.8" cy="468.2" r="6.6"/>
<circle class="O" cx="1822.0" cy="475.1" r="6.6"/>
<circle class="O" cx="1831.9" cy="475.1" r="6.6"/>
<circle class="O" cx="1776.6" cy="486.9" r="6.6"/>
<circle class="O" cx="1781.5" cy="488.9" r="6.6"/>
<circle class="O" cx="1788.4" cy="496.8" r="6.6"/>
<circle class="O" cx="1786.4" cy="506.7" r="6.6"/>
<circle class="O" cx="1785.4" cy="511.6" r="6.6"/>
<circle class="O" cx="1807.2" cy="476.1" r="6.6"/>
<circle class="O" cx="1804.2" cy="481.0" r="6.6"/>
<circle class="O" cx="1818.0" cy="500.8" r="6.6"/>
<circle class="O" cx="1843.7" cy="494.8" r="6.6"/>
<circle class="O" cx="1702.5" cy="561.6" r="6.6"/>
<circle class="G" cx="1347.2" cy="209.4" r="6.6"/>
<circle class="B" cx="1305.2" cy="217.2" r="6.6"/>
<circle class="G" cx="1641.4" cy="131.5" r="6.6"/>
<circle class="G" cx="1637.7" cy="127.4" r="6.6"/>
<circle class="B" cx="1454.0" cy="195.4" r="6.6"/>
<circle class="B" cx="1622.6" cy="142.5" r="6.6"/>
<circle class="B" cx="1459.2" cy="186.5" r="6.6"/>
<circle class="G" cx="1318.4" cy="205.2" r="6.6"/>
<circle class="B" cx="1449.5" cy="203.9" r="6.6"/>
<circle class="B" cx="1395.7" cy="185.7" r="6.6"/>
<circle class="G" cx="1613.8" cy="153.5" r="6.6"/>
<circle class="B" cx="1301.4" cy="221.7" r="6.6"/>
<circle class="B" cx="1616.5" cy="133.2" r="6.6"/>
<circle class="B" cx="1360.6" cy="193.5" r="6.6"/>
<circle class="B" cx="1320.1" cy="230.7" r="6.6"/>
<circle class="G" cx="1363.3" cy="202.6" r="6.6"/>
<circle class="G" cx="1524.9" cy="176.9" r="6.6"/>
<circle class="B" cx="1521.6" cy="155.1" r="6.6"/>
<circle class="G" cx="1614.4" cy="140.5" r="6.6"/>
<circle class="G" cx="1627.2" cy="132.1" r="6.6"/>
<circle class="B" cx="1451.2" cy="194.7" r="6.6"/>
<circle class="B" cx="1336.8" cy="227.6" r="6.6"/>
<circle class="B" cx="1441.1" cy="180.3" r="6.6"/>
<circle class="B" cx="1404.3" cy="175.7" r="6.6"/>
<circle class="G" cx="1653.2" cy="138.4" r="6.6"/>
<circle class="G" cx="1550.2" cy="163.2" r="6.6"/>
<circle class="G" cx="1353.3" cy="236.0" r="6.6"/>
<circle class="B" cx="1452.1" cy="175.1" r="6.6"/>
<circle class="B" cx="1352.3" cy="198.1" r="6.6"/>
<circle class="G" cx="1607.7" cy="161.9" r="6.6"/>
<circle class="G" cx="1687.6" cy="126.7" r="6.6"/>
<circle class="B" cx="1331.0" cy="217.8" r="6.6"/>
<circle class="G" cx="1690.9" cy="119.9" r="6.6"/>
<circle class="B" cx="1275.0" cy="200.3" r="6.6"/>
<circle class="B" cx="1567.3" cy="147.7" r="6.6"/>
<circle class="B" cx="1579.9" cy="150.8" r="6.6"/>
<circle class="G" cx="1624.3" cy="147.9" r="6.6"/>
<circle class="G" cx="1483.9" cy="178.5" r="6.6"/>
<circle class="B" cx="1516.6" cy="158.6" r="6.6"/>
<circle class="B" cx="1382.4" cy="184.3" r="6.6"/>
<circle class="B" cx="1466.8" cy="197.1" r="6.6"/>
<circle class="G" cx="1548.3" cy="171.7" r="6.6"/>
<circle class="B" cx="1338.4" cy="223.9" r="6.6"/>
<circle class="B" cx="1353.0" cy="216.9" r="6.6"/>
<circle class="B" cx="1304.1" cy="195.8" r="6.6"/>
<circle class="B" cx="1427.5" cy="201.8" r="6.6"/>
<circle class="G" cx="1469.7" cy="161.0" r="6.6"/>
<circle class="G" cx="1358.0" cy="200.3" r="6.6"/>
<circle class="B" cx="1634.6" cy="147.4" r="6.6"/>
<circle class="G" cx="1592.3" cy="169.5" r="6.6"/>
<circle class="B" cx="1502.1" cy="174.7" r="6.6"/>
<circle class="G" cx="1621.9" cy="132.0" r="6.6"/>
<circle class="G" cx="1348.1" cy="235.9" r="6.6"/>
<circle class="B" cx="1431.0" cy="183.2" r="6.6"/>
<circle class="B" cx="1622.6" cy="139.1" r="6.6"/>
<circle class="B" cx="1340.8" cy="232.2" r="6.6"/>
<circle class="B" cx="1344.9" cy="236.0" r="6.6"/>
<circle class="B" cx="1335.4" cy="214.5" r="6.6"/>
<circle class="B" cx="1290.5" cy="202.6" r="6.6"/>
<circle class="B" cx="1521.4" cy="155.0" r="6.6"/>
<circle class="G" cx="1330.0" cy="211.3" r="6.6"/>
<circle class="G" cx="1450.5" cy="181.4" r="6.6"/>
<circle class="G" cx="1543.2" cy="160.1" r="6.6"/>
<circle class="B" cx="1454.3" cy="196.7" r="6.6"/>
<circle class="G" cx="1608.9" cy="161.8" r="6.6"/>
<circle class="G" cx="1609.0" cy="161.5" r="6.6"/>
<circle class="B" cx="1540.9" cy="173.1" r="6.6"/>
<circle class="B" cx="1511.4" cy="176.0" r="6.6"/>
<circle class="B" cx="1296.4" cy="209.8" r="6.6"/>
<circle class="B" cx="1622.2" cy="132.8" r="6.6"/>
<circle class="G" cx="1410.5" cy="198.7" r="6.6"/>
<circle class="B" cx="1620.1" cy="153.1" r="6.6"/>
<circle class="B" cx="1418.9" cy="179.3" r="6.6"/>
<circle class="G" cx="1353.1" cy="237.9" r="6.6"/>
<circle class="B" cx="1546.2" cy="171.4" r="6.6"/>
<circle class="B" cx="1511.9" cy="175.1" r="6.6"/>
<circle class="G" cx="1338.2" cy="211.1" r="6.6"/>
<circle class="B" cx="1609.6" cy="131.1" r="6.6"/>
<circle class="G" cx="1362.2" cy="202.6" r="6.6"/>
<circle class="B" cx="1649.0" cy="136.0" r="6.6"/>
<circle class="G" cx="1333.4" cy="213.2" r="6.6"/>
<circle class="B" cx="1391.8" cy="216.6" r="6.6"/>
<circle class="B" cx="1615.9" cy="139.3" r="6.6"/>
<circle class="B" cx="1309.6" cy="215.2" r="6.6"/>
<circle class="B" cx="1331.2" cy="234.1" r="6.6"/>
<circle class="B" cx="1552.9" cy="151.7" r="6.6"/>
<circle class="B" cx="1465.0" cy="198.8" r="6.6"/>
<circle class="B" cx="1480.3" cy="166.1" r="6.6"/>
<circle class="B" cx="1395.7" cy="179.2" r="6.6"/>
<circle class="G" cx="1694.0" cy="125.3" r="6.6"/>
<circle class="B" cx="1626.6" cy="138.9" r="6.6"/>
<circle class="B" cx="1627.4" cy="135.3" r="6.6"/>
<circle class="B" cx="1554.0" cy="167.7" r="6.6"/>
<circle class="B" cx="1634.3" cy="148.3" r="6.6"/>
<circle class="G" cx="1619.1" cy="152.4" r="6.6"/>
<circle class="G" cx="1457.7" cy="186.7" r="6.6"/>
<circle class="G" cx="1448.3" cy="186.4" r="6.6"/>
<circle class="B" cx="1325.6" cy="232.7" r="6.6"/>
<circle class="B" cx="1675.1" cy="131.7" r="6.6"/>
<circle class="G" cx="1357.3" cy="199.3" r="6.6"/>
<circle class="B" cx="1615.4" cy="135.8" r="6.6"/>
<circle class="B" cx="1434.6" cy="189.1" r="6.6"/>
<circle class="B" cx="1296.3" cy="210.1" r="6.6"/>
<circle class="G" cx="1314.2" cy="213.6" r="6.6"/>
<circle class="G" cx="1357.1" cy="199.7" r="6.6"/>
<circle class="B" cx="1628.0" cy="128.5" r="6.6"/>
<circle class="B" cx="1539.5" cy="147.8" r="6.6"/>
<circle class="B" cx="1461.7" cy="184.8" r="6.6"/>
<circle class="B" cx="1396.2" cy="190.4" r="6.6"/>
<circle class="B" cx="1406.1" cy="175.1" r="6.6"/>
<circle class="B" cx="1376.7" cy="202.6" r="6.6"/>
<circle class="B" cx="1356.5" cy="209.6" r="6.6"/>
<circle class="G" cx="1449.2" cy="180.8" r="6.6"/>
<circle class="G" cx="1471.0" cy="184.0" r="6.6"/>
<circle class="B" cx="1674.7" cy="121.3" r="6.6"/>
<circle class="G" cx="1390.4" cy="206.2" r="6.6"/>
<circle class="B" cx="1681.1" cy="122.9" r="6.6"/>
<circle class="B" cx="1360.2" cy="210.9" r="6.6"/>
<circle class="G" cx="1449.6" cy="180.6" r="6.6"/>
<circle class="B" cx="1650.9" cy="135.7" r="6.6"/>
<circle class="G" cx="1533.7" cy="164.6" r="6.6"/>
<circle class="G" cx="1281.5" cy="214.4" r="6.6"/>
<circle class="G" cx="1322.1" cy="207.3" r="6.6"/>
<circle class="B" cx="1362.7" cy="196.7" r="6.6"/>
<circle class="B" cx="1585.5" cy="165.3" r="6.6"/>
<circle class="G" cx="1604.5" cy="147.4" r="6.6"/>
<circle class="B" cx="1351.2" cy="210.3" r="6.6"/>
<circle class="B" cx="1282.4" cy="213.9" r="6.6"/>
<circle class="B" cx="1329.8" cy="217.5" r="6.6"/>
<circle class="G" cx="1654.6" cy="138.7" r="6.6"/>
<circle class="G" cx="1410.5" cy="210.2" r="6.6"/>
<circle class="G" cx="1380.6" cy="210.8" r="6.6"/>
<circle class="G" cx="1672.3" cy="129.6" r="6.6"/>
<circle class="B" cx="1646.3" cy="124.1" r="6.6"/>
<circle class="B" cx="1553.5" cy="151.8" r="6.6"/>
<circle class="B" cx="1406.7" cy="175.6" r="6.6"/>
<circle class="B" cx="1282.9" cy="212.3" r="6.6"/>
<circle class="B" cx="1538.7" cy="147.3" r="6.6"/>
<circle class="G" cx="1352.7" cy="212.4" r="6.6"/>
<circle class="G" cx="1457.7" cy="186.7" r="6.6"/>
<circle class="B" cx="1342.2" cy="221.3" r="6.6"/>
<circle class="B" cx="1463.4" cy="169.8" r="6.6"/>
<circle class="B" cx="1467.8" cy="161.3" r="6.6"/>
<circle class="B" cx="1270.5" cy="207.5" r="6.6"/>
<circle class="B" cx="1641.6" cy="143.3" r="6.6"/>
<circle class="G" cx="1351.7" cy="237.4" r="6.6"/>
<circle class="B" cx="1355.5" cy="192.8" r="6.6"/>
<circle class="G" cx="1456.3" cy="184.0" r="6.6"/>
<circle class="B" cx="1317.9" cy="211.5" r="6.6"/>
<circle class="B" cx="1644.6" cy="125.5" r="6.6"/>
<circle class="B" cx="1434.5" cy="188.8" r="6.6"/>
<circle class="B" cx="1618.6" cy="147.7" r="6.6"/>
<circle class="B" cx="1564.9" cy="137.7" r="6.6"/>
<circle class="B" cx="1303.7" cy="212.7" r="6.6"/>
<circle class="G" cx="1469.5" cy="161.1" r="6.6"/>
<circle class="B" cx="1646.4" cy="124.8" r="6.6"/>
<circle class="G" cx="1321.7" cy="226.5" r="6.6"/>
<circle class="B" cx="1690.8" cy="124.5" r="6.6"/>
<circle class="B" cx="1316.4" cy="222.7" r="6.6"/>
<circle class="G" cx="1626.8" cy="134.7" r="6.6"/>
<circle class="B" cx="1489.7" cy="180.1" r="6.6"/>
<circle class="B" cx="1360.9" cy="194.6" r="6.6"/>
<circle class="B" cx="1475.7" cy="174.6" r="6.6"/>
<circle class="G" cx="1690.8" cy="122.5" r="6.6"/>
<circle class="B" cx="1391.5" cy="218.8" r="6.6"/>
<circle class="B" cx="1446.0" cy="203.0" r="6.6"/>
<circle class="B" cx="1347.5" cy="222.3" r="6.6"/>
<circle class="G" cx="1448.7" cy="186.5" r="6.6"/>
<circle class="B" cx="1669.6" cy="134.1" r="6.6"/>
<circle class="B" cx="1634.8" cy="153.1" r="6.6"/>
<circle class="G" cx="1641.6" cy="137.5" r="6.6"/>
<circle class="B" cx="1580.7" cy="160.8" r="6.6"/>
<circle class="B" cx="1618.0" cy="139.0" r="6.6"/>
<circle class="G" cx="1688.4" cy="116.3" r="6.6"/>
<circle class="B" cx="1426.2" cy="205.5" r="6.6"/>
<circle class="B" cx="1343.7" cy="189.9" r="6.6"/>
<circle class="B" cx="1629.9" cy="137.0" r="6.6"/>
<circle class="B" cx="1396.7" cy="189.9" r="6.6"/>
<circle class="G" cx="1465.7" cy="169.3" r="6.6"/>
<circle class="B" cx="1593.7" cy="130.9" r="6.6"/>
<circle class="B" cx="1626.4" cy="137.4" r="6.6"/>
<circle class="G" cx="1407.7" cy="192.5" r="6.6"/>
<circle class="B" cx="1646.5" cy="124.5" r="6.6"/>
<circle class="B" cx="1661.9" cy="127.7" r="6.6"/>
<circle class="B" cx="1271.3" cy="207.4" r="6.6"/>
<circle class="B" cx="1656.8" cy="121.5" r="6.6"/>
<circle class="B" cx="1311.7" cy="198.2" r="6.6"/>
<circle class="G" cx="1633.4" cy="138.3" r="6.6"/>
<circle class="B" cx="1436.2" cy="196.2" r="6.6"/>
<circle class="B" cx="1678.1" cy="128.5" r="6.6"/>
<circle class="B" cx="1692.4" cy="117.5" r="6.6"/>
<circle class="B" cx="1366.0" cy="194.8" r="6.6"/>
<circle class="G" cx="1618.2" cy="157.7" r="6.6"/>
<circle class="G" cx="1639.4" cy="140.1" r="6.6"/>
<circle class="B" cx="1351.5" cy="224.1" r="6.6"/>
<circle class="B" cx="1359.2" cy="226.2" r="6.6"/>
<circle class="B" cx="1328.9" cy="225.7" r="6.6"/>
<circle class="B" cx="1525.2" cy="145.0" r="6.6"/>
<circle class="B" cx="1592.9" cy="139.3" r="6.6"/>
<circle class="G" cx="1399.6" cy="178.3" r="6.6"/>
<circle class="B" cx="1430.5" cy="187.4" r="6.6"/>
<circle class="G" cx="1318.8" cy="205.0" r="6.6"/>
<circle class="B" cx="1344.3" cy="190.3" r="6.6"/>
<circle class="B" cx="1483.9" cy="178.4" r="6.6"/>
<circle class="B" cx="1480.1" cy="166.2" r="6.6"/>
<circle class="G" cx="1564.7" cy="137.3" r="6.6"/>
<circle class="G" cx="1564.9" cy="142.4" r="6.6"/>
<circle class="B" cx="1342.4" cy="211.7" r="6.6"/>
<circle class="B" cx="1344.7" cy="222.4" r="6.6"/>
<circle class="B" cx="1622.4" cy="139.3" r="6.6"/>
<circle class="B" cx="1349.7" cy="194.5" r="6.6"/>
<circle class="B" cx="1338.7" cy="223.8" r="6.6"/>
<circle class="B" cx="1347.0" cy="221.3" r="6.6"/>
<circle class="B" cx="1354.8" cy="231.2" r="6.6"/>
<circle class="G" cx="1500.6" cy="160.7" r="6.6"/>
<circle class="G" cx="1372.8" cy="209.8" r="6.6"/>
<circle class="B" cx="1356.4" cy="208.7" r="6.6"/>
<circle class="B" cx="1502.5" cy="174.6" r="6.6"/>
<circle class="G" cx="1344.6" cy="229.9" r="6.6"/>
<circle class="B" cx="1622.6" cy="131.7" r="6.6"/>
<circle class="G" cx="1410.2" cy="198.9" r="6.6"/>
<circle class="G" cx="1449.1" cy="180.6" r="6.6"/>
<circle class="B" cx="1339.6" cy="224.4" r="6.6"/>
<circle class="G" cx="1640.6" cy="137.9" r="6.6"/>
<circle class="G" cx="1618.4" cy="144.3" r="6.6"/>
<circle class="B" cx="1632.8" cy="139.0" r="6.6"/>
<circle class="B" cx="1687.6" cy="121.7" r="6.6"/>
<circle class="G" cx="1619.5" cy="152.5" r="6.6"/>
<circle class="G" cx="1433.9" cy="184.7" r="6.6"/>
<circle class="G" cx="1542.0" cy="147.3" r="6.6"/>
<circle class="B" cx="1451.7" cy="175.1" r="6.6"/>
<circle class="B" cx="1328.7" cy="211.8" r="6.6"/>
<circle class="G" cx="1544.7" cy="159.8" r="6.6"/>
<circle class="B" cx="1459.2" cy="186.6" r="6.6"/>
<circle class="B" cx="1411.9" cy="205.1" r="6.6"/>
<circle class="B" cx="1407.7" cy="174.7" r="6.6"/>
<circle class="B" cx="1312.5" cy="194.9" r="6.6"/>
<circle class="G" cx="1612.8" cy="136.3" r="6.6"/>
<circle class="B" cx="1480.0" cy="166.3" r="6.6"/>
<circle class="B" cx="1274.7" cy="202.8" r="6.6"/>
<circle class="B" cx="1325.8" cy="224.6" r="6.6"/>
<circle class="G" cx="1309.8" cy="219.9" r="6.6"/>
<circle class="B" cx="1480.1" cy="166.2" r="6.6"/>
<circle class="G" cx="1613.3" cy="150.0" r="6.6"/>
<circle class="G" cx="1681.2" cy="129.5" r="6.6"/>
<circle class="G" cx="1353.8" cy="212.4" r="6.6"/>
<circle class="B" cx="1669.7" cy="115.1" r="6.6"/>
<circle class="B" cx="1629.6" cy="140.5" r="6.6"/>
<circle class="G" cx="1449.5" cy="180.6" r="6.6"/>
<circle class="B" cx="1621.4" cy="130.7" r="6.6"/>
<circle class="G" cx="1380.1" cy="210.7" r="6.6"/>
<circle class="G" cx="1567.3" cy="146.7" r="6.6"/>
<circle class="G" cx="1575.5" cy="170.5" r="6.6"/>
<circle class="G" cx="1362.2" cy="202.4" r="6.6"/>
<circle class="G" cx="1674.7" cy="132.1" r="6.6"/>
<circle class="B" cx="1356.8" cy="224.5" r="6.6"/>
<circle class="B" cx="1274.9" cy="199.4" r="6.6"/>
<circle class="B" cx="1343.8" cy="235.8" r="6.6"/>
<circle class="G" cx="1433.4" cy="184.6" r="6.6"/>
<circle class="G" cx="1343.1" cy="221.9" r="6.6"/>
<circle class="G" cx="1347.0" cy="209.8" r="6.6"/>
<circle class="G" cx="1663.3" cy="138.3" r="6.6"/>
<circle class="B" cx="1431.8" cy="199.3" r="6.6"/>
<circle class="G" cx="1605.4" cy="136.3" r="6.6"/>
<circle class="G" cx="1421.3" cy="195.7" r="6.6"/>
<circle class="G" cx="1608.9" cy="155.8" r="6.6"/>
<circle class="G" cx="1579.7" cy="169.5" r="6.6"/>
<circle class="B" cx="1422.4" cy="199.9" r="6.6"/>
<circle class="G" cx="1643.3" cy="131.1" r="6.6"/>
<circle class="B" cx="1343.6" cy="233.0" r="6.6"/>
<circle class="B" cx="1538.5" cy="158.0" r="6.6"/>
<circle class="B" cx="1594.3" cy="154.4" r="6.6"/>
<circle class="G" cx="1456.4" cy="184.2" r="6.6"/>
<circle class="G" cx="1403.5" cy="176.8" r="6.6"/>
<circle class="G" cx="1471.5" cy="195.0" r="6.6"/>
<circle class="B" cx="1308.3" cy="215.4" r="6.6"/>
<circle class="G" cx="1318.8" cy="201.8" r="6.6"/>
<circle class="B" cx="1406.1" cy="181.6" r="6.6"/>
<circle class="B" cx="1618.0" cy="153.1" r="6.6"/>
<circle class="B" cx="1624.5" cy="133.3" r="6.6"/>
<circle class="G" cx="1324.9" cy="196.9" r="6.6"/>
<circle class="G" cx="1347.6" cy="196.0" r="6.6"/>
<circle class="G" cx="1624.2" cy="133.7" r="6.6"/>
<circle class="B" cx="1351.5" cy="229.8" r="6.6"/>
<circle class="G" cx="1433.5" cy="184.6" r="6.6"/>
<circle class="B" cx="1274.0" cy="209.4" r="6.6"/>
<circle class="B" cx="1304.7" cy="195.7" r="6.6"/>
<circle class="G" cx="1655.1" cy="138.2" r="6.6"/>
<circle class="B" cx="1476.2" cy="174.6" r="6.6"/>
<circle class="B" cx="1340.5" cy="232.5" r="6.6"/>
<circle class="G" cx="1352.7" cy="208.2" r="6.6"/>
<circle class="B" cx="1434.3" cy="181.1" r="6.6"/>
<circle class="G" cx="1289.0" cy="215.9" r="6.6"/>
<circle class="G" cx="1628.0" cy="135.8" r="6.6"/>
<circle class="B" cx="1467.3" cy="191.0" r="6.6"/>
<circle class="B" cx="1340.5" cy="205.9" r="6.6"/>
<circle class="B" cx="1237.7" cy="186.0" r="6.6"/>
<circle class="B" cx="1266.2" cy="197.5" r="6.6"/>
<circle class="B" cx="1265.5" cy="205.0" r="6.6"/>
<circle class="B" cx="1283.8" cy="203.0" r="6.6"/>
<circle class="B" cx="1297.4" cy="201.6" r="6.6"/>
<circle class="G" cx="1277.0" cy="209.8" r="6.6"/>
<circle class="G" cx="1282.5" cy="213.8" r="6.6"/>
<circle class="B" cx="1290.6" cy="213.8" r="6.6"/>
<circle class="B" cx="1295.4" cy="217.9" r="6.6"/>
<circle class="B" cx="1311.0" cy="189.4" r="6.6"/>
<circle class="G" cx="1324.6" cy="190.7" r="6.6"/>
<circle class="B" cx="1312.4" cy="207.0" r="6.6"/>
<circle class="G" cx="1325.3" cy="203.0" r="6.6"/>
<circle class="G" cx="1331.4" cy="207.0" r="6.6"/>
<circle class="B" cx="1336.8" cy="196.2" r="6.6"/>
<circle class="B" cx="1350.4" cy="184.6" r="6.6"/>
<circle class="B" cx="1362.6" cy="188.0" r="6.6"/>
<circle class="G" cx="1365.3" cy="195.5" r="6.6"/>
<circle class="B" cx="1375.5" cy="181.9" r="6.6"/>
<circle class="B" cx="1389.1" cy="187.4" r="6.6"/>
<circle class="B" cx="1402.0" cy="171.7" r="6.6"/>
<circle class="B" cx="1410.2" cy="178.5" r="6.6"/>
<circle class="G" cx="1402.0" cy="184.6" r="6.6"/>
<circle class="B" cx="1403.4" cy="193.5" r="6.6"/>
<circle class="G" cx="1385.0" cy="203.7" r="6.6"/>
<circle class="B" cx="1349.0" cy="204.3" r="6.6"/>
<circle class="B" cx="1369.4" cy="201.6" r="6.6"/>
<circle class="B" cx="1345.0" cy="212.5" r="6.6"/>
<circle class="G" cx="1361.3" cy="209.8" r="6.6"/>
<circle class="G" cx="1376.2" cy="217.9" r="6.6"/>
<circle class="B" cx="1395.2" cy="208.4" r="6.6"/>
<circle class="B" cx="1404.7" cy="215.2" r="6.6"/>
<circle class="B" cx="1388.4" cy="224.7" r="6.6"/>
<circle class="B" cx="1361.3" cy="220.6" r="6.6"/>
<circle class="B" cx="1315.1" cy="216.6" r="6.6"/>
<circle class="B" cx="1325.9" cy="216.6" r="6.6"/>
<circle class="G" cx="1306.9" cy="223.3" r="6.6"/>
<circle class="B" cx="1317.8" cy="228.8" r="6.6"/>
<circle class="B" cx="1327.3" cy="232.9" r="6.6"/>
<circle class="B" cx="1336.8" cy="235.6" r="6.6"/>
<circle class="B" cx="1335.4" cy="219.3" r="6.6"/>
<circle class="G" cx="1345.0" cy="215.2" r="6.6"/>
<circle class="G" cx="1339.5" cy="230.1" r="6.6"/>
<circle class="B" cx="1349.0" cy="230.1" r="6.6"/>
<circle class="B" cx="1359.9" cy="232.9" r="6.6"/>
<circle class="B" cx="1376.2" cy="231.5" r="6.6"/>
<circle class="G" cx="1395.2" cy="236.2" r="6.6"/>
<circle class="B" cx="1391.1" cy="238.3" r="6.6"/>
<circle class="B" cx="1376.2" cy="250.5" r="6.6"/>
<circle class="G" cx="1346.3" cy="243.0" r="6.6"/>
<circle class="B" cx="1421.0" cy="240.3" r="6.6"/>
<circle class="B" cx="1426.5" cy="179.2" r="6.6"/>
<circle class="G" cx="1425.1" cy="186.7" r="6.6"/>
<circle class="B" cx="1426.5" cy="196.2" r="6.6"/>
<circle class="G" cx="1416.9" cy="204.3" r="6.6"/>
<circle class="B" cx="1427.8" cy="208.4" r="6.6"/>
<circle class="B" cx="1436.0" cy="188.0" r="6.6"/>
<circle class="G" cx="1442.8" cy="182.6" r="6.6"/>
<circle class="B" cx="1445.5" cy="172.4" r="6.6"/>
<circle class="B" cx="1448.2" cy="197.5" r="6.6"/>
<circle class="G" cx="1448.2" cy="209.8" r="6.6"/>
<circle class="G" cx="1456.3" cy="178.5" r="6.6"/>
<circle class="G" cx="1455.0" cy="190.7" r="6.6"/>
<circle class="B" cx="1459.0" cy="194.8" r="6.6"/>
<circle class="G" cx="1459.0" cy="160.9" r="6.6"/>
<circle class="G" cx="1462.8" cy="160.2" r="6.6"/>
<circle class="B" cx="1476.5" cy="161.8" r="6.6"/>
<circle class="G" cx="1494.1" cy="154.6" r="6.6"/>
<circle class="B" cx="1507.8" cy="155.4" r="6.6"/>
<circle class="B" cx="1517.4" cy="148.2" r="6.6"/>
<circle class="B" cx="1532.7" cy="141.7" r="6.6"/>
<circle class="B" cx="1536.7" cy="149.8" r="6.6"/>
<circle class="G" cx="1546.3" cy="146.5" r="6.6"/>
<circle class="B" cx="1546.3" cy="153.8" r="6.6"/>
<circle class="B" cx="1525.4" cy="161.8" r="6.6"/>
<circle class="G" cx="1532.7" cy="170.6" r="6.6"/>
<circle class="G" cx="1541.5" cy="166.6" r="6.6"/>
<circle class="B" cx="1483.7" cy="170.6" r="6.6"/>
<circle class="B" cx="1494.9" cy="173.8" r="6.6"/>
<circle class="B" cx="1506.2" cy="169.0" r="6.6"/>
<circle class="G" cx="1456.4" cy="178.7" r="6.6"/>
<circle class="B" cx="1467.7" cy="178.7" r="6.6"/>
<circle class="G" cx="1472.5" cy="187.5" r="6.6"/>
<circle class="G" cx="1483.7" cy="186.7" r="6.6"/>
<circle class="B" cx="1494.9" cy="193.1" r="6.6"/>
<circle class="B" cx="1517.4" cy="183.5" r="6.6"/>
<circle class="B" cx="1528.7" cy="189.1" r="6.6"/>
<circle class="B" cx="1546.3" cy="194.7" r="6.6"/>
<circle class="B" cx="1461.2" cy="194.7" r="6.6"/>
<circle class="B" cx="1470.9" cy="202.7" r="6.6"/>
<circle class="G" cx="1451.6" cy="209.1" r="6.6"/>
<circle class="G" cx="1498.2" cy="197.9" r="6.6"/>
<circle class="G" cx="1488.5" cy="213.2" r="6.6"/>
<circle class="B" cx="1568.8" cy="134.5" r="6.6"/>
<circle class="B" cx="1573.6" cy="144.9" r="6.6"/>
<circle class="B" cx="1588.0" cy="129.7" r="6.6"/>
<circle class="B" cx="1599.3" cy="132.1" r="6.6"/>
<circle class="B" cx="1586.4" cy="146.5" r="6.6"/>
<circle class="B" cx="1586.4" cy="154.6" r="6.6"/>
<circle class="G" cx="1560.8" cy="149.8" r="6.6"/>
<circle class="B" cx="1559.1" cy="161.0" r="6.6"/>
<circle class="B" cx="1554.3" cy="176.2" r="6.6"/>
<circle class="G" cx="1567.2" cy="167.4" r="6.6"/>
<circle class="G" cx="1575.2" cy="165.0" r="6.6"/>
<circle class="G" cx="1584.8" cy="173.8" r="6.6"/>
<circle class="G" cx="1602.5" cy="164.2" r="6.6"/>
<circle class="G" cx="1602.5" cy="152.2" r="6.6"/>
<circle class="G" cx="1606.5" cy="142.5" r="6.6"/>
<circle class="B" cx="1612.1" cy="148.2" r="6.6"/>
<circle class="G" cx="1615.3" cy="159.4" r="6.6"/>
<circle class="B" cx="1625.0" cy="148.2" r="6.6"/>
<circle class="B" cx="1621.7" cy="126.5" r="6.6"/>
<circle class="G" cx="1628.2" cy="130.5" r="6.6"/>
<circle class="G" cx="1634.6" cy="133.7" r="6.6"/>
<circle class="B" cx="1641.0" cy="121.7" r="6.6"/>
<circle class="B" cx="1620.1" cy="136.9" r="6.6"/>
<circle class="B" cx="1644.2" cy="146.5" r="6.6"/>
<circle class="G" cx="1649.8" cy="142.5" r="6.6"/>
<circle class="B" cx="1652.2" cy="128.1" r="6.6"/>
<circle class="B" cx="1660.3" cy="114.4" r="6.6"/>
<circle class="G" cx="1660.3" cy="133.7" r="6.6"/>
<circle class="B" cx="1666.7" cy="140.9" r="6.6"/>
<circle class="B" cx="1671.5" cy="127.3" r="6.6"/>
<circle class="G" cx="1677.9" cy="136.9" r="6.6"/>
<circle class="B" cx="1677.9" cy="115.2" r="6.6"/>
<circle class="B" cx="1690.8" cy="112.8" r="6.6"/>
<circle class="B" cx="1684.3" cy="130.5" r="6.6"/>
<circle class="G" cx="1686.0" cy="120.9" r="6.6"/>
<circle class="G" cx="1694.0" cy="123.3" r="6.6"/>
<circle class="G" cx="1690.8" cy="132.1" r="6.6"/>
<circle class="B" cx="1697.2" cy="118.5" r="6.6"/>
<circle class="B" cx="1265.7" cy="197.0" r="6.6"/>
<circle class="B" cx="1265.7" cy="204.4" r="6.6"/>
<circle class="B" cx="1283.6" cy="201.2" r="6.6"/>
<circle class="B" cx="1297.2" cy="202.3" r="6.6"/>
<circle class="G" cx="1275.2" cy="210.7" r="6.6"/>
<circle class="G" cx="1282.5" cy="213.8" r="6.6"/>
<circle class="B" cx="1287.8" cy="218.0" r="6.6"/>
<circle class="B" cx="1294.1" cy="218.0" r="6.6"/>
<circle class="B" cx="1311.9" cy="189.7" r="6.6"/>
<circle class="G" cx="1324.5" cy="190.7" r="6.6"/>
<circle class="B" cx="1313.0" cy="200.2" r="6.6"/>
<circle class="B" cx="1311.9" cy="207.5" r="6.6"/>
<circle class="G" cx="1324.5" cy="203.3" r="6.6"/>
<circle class="B" cx="1334.0" cy="196.0" r="6.6"/>
<circle class="G" cx="1331.9" cy="207.5" r="6.6"/>
<circle class="G" cx="1339.2" cy="200.2" r="6.6"/>
<circle class="B" cx="1348.7" cy="204.4" r="6.6"/>
<circle class="B" cx="1351.8" cy="184.4" r="6.6"/>
<circle class="B" cx="1356.0" cy="191.8" r="6.6"/>
<circle class="B" cx="1359.2" cy="201.2" r="6.6"/>
<circle class="G" cx="1359.2" cy="209.6" r="6.6"/>
<circle class="G" cx="1345.5" cy="214.9" r="6.6"/>
<circle class="B" cx="1323.5" cy="215.9" r="6.6"/>
<circle class="B" cx="1336.1" cy="219.1" r="6.6"/>
<circle class="G" cx="1316.1" cy="220.1" r="6.6"/>
<circle class="G" cx="1304.6" cy="223.3" r="6.6"/>
<circle class="B" cx="1308.8" cy="225.4" r="6.6"/>
<circle class="B" cx="1313.0" cy="228.5" r="6.6"/>
<circle class="B" cx="1319.3" cy="230.6" r="6.6"/>
<circle class="B" cx="1325.6" cy="232.7" r="6.6"/>
<circle class="B" cx="1331.9" cy="234.8" r="6.6"/>
<circle class="B" cx="1338.2" cy="235.9" r="6.6"/>
<circle class="B" cx="1341.3" cy="228.5" r="6.6"/>
<circle class="B" cx="1349.7" cy="229.6" r="6.6"/>
<circle class="B" cx="1357.1" cy="231.7" r="6.6"/>
<circle class="B" cx="1353.9" cy="218.0" r="6.6"/>
<circle class="G" cx="1346.6" cy="242.2" r="6.6"/>
<circle class="B" cx="1350.5" cy="183.6" r="6.6"/>
<circle class="B" cx="1362.0" cy="185.7" r="6.6"/>
<circle class="B" cx="1375.2" cy="181.5" r="6.6"/>
<circle class="B" cx="1397.2" cy="172.0" r="6.6"/>
<circle class="B" cx="1404.0" cy="169.9" r="6.6"/>
<circle class="B" cx="1411.4" cy="179.4" r="6.6"/>
<circle class="B" cx="1389.3" cy="186.7" r="6.6"/>
<circle class="G" cx="1403.0" cy="183.6" r="6.6"/>
<circle class="B" cx="1426.1" cy="178.3" r="6.6"/>
<circle class="B" cx="1443.9" cy="172.0" r="6.6"/>
<circle class="G" cx="1441.8" cy="182.5" r="6.6"/>
<circle class="G" cx="1425.0" cy="186.7" r="6.6"/>
<circle class="G" cx="1365.2" cy="195.1" r="6.6"/>
<circle class="B" cx="1404.0" cy="193.0" r="6.6"/>
<circle class="B" cx="1427.1" cy="195.1" r="6.6"/>
<circle class="B" cx="1436.6" cy="190.9" r="6.6"/>
<circle class="B" cx="1446.0" cy="196.2" r="6.6"/>
<circle class="B" cx="1349.4" cy="203.5" r="6.6"/>
<circle class="G" cx="1359.9" cy="208.8" r="6.6"/>
<circle class="G" cx="1346.3" cy="215.1" r="6.6"/>
<circle class="G" cx="1384.1" cy="203.5" r="6.6"/>
<circle class="G" cx="1396.7" cy="208.8" r="6.6"/>
<circle class="B" cx="1406.1" cy="205.6" r="6.6"/>
<circle class="G" cx="1413.5" cy="200.4" r="6.6"/>
<circle class="G" cx="1417.7" cy="204.6" r="6.6"/>
<circle class="B" cx="1427.1" cy="207.7" r="6.6"/>
<circle class="B" cx="1435.5" cy="206.7" r="6.6"/>
<circle class="G" cx="1446.0" cy="209.8" r="6.6"/>
<circle class="B" cx="1404.0" cy="216.1" r="6.6"/>
<circle class="G" cx="1375.7" cy="218.2" r="6.6"/>
<circle class="B" cx="1353.6" cy="216.1" r="6.6"/>
<circle class="B" cx="1394.6" cy="213.0" r="6.6"/>
<circle class="B" cx="1361.0" cy="221.4" r="6.6"/>
<circle class="B" cx="1388.3" cy="223.5" r="6.6"/>
<circle class="B" cx="1375.7" cy="229.8" r="6.6"/>
<circle class="B" cx="1359.9" cy="229.8" r="6.6"/>
<circle class="B" cx="1343.1" cy="229.8" r="6.6"/>
<circle class="G" cx="1463.1" cy="159.9" r="6.6"/>
<circle class="B" cx="1476.2" cy="162.0" r="6.6"/>
<circle class="G" cx="1494.1" cy="154.1" r="6.6"/>
<circle class="B" cx="1507.2" cy="154.6" r="6.6"/>
<circle class="B" cx="1517.7" cy="148.3" r="6.6"/>
<circle class="B" cx="1532.4" cy="141.0" r="6.6"/>
<circle class="B" cx="1535.5" cy="149.4" r="6.6"/>
<circle class="B" cx="1545.0" cy="153.6" r="6.6"/>
<circle class="B" cx="1525.0" cy="162.0" r="6.6"/>
<circle class="G" cx="1542.3" cy="167.2" r="6.6"/>
<circle class="G" cx="1532.4" cy="170.4" r="6.6"/>
<circle class="B" cx="1446.3" cy="172.5" r="6.6"/>
<circle class="G" cx="1457.8" cy="177.7" r="6.6"/>
<circle class="B" cx="1468.3" cy="178.8" r="6.6"/>
<circle class="B" cx="1484.1" cy="170.4" r="6.6"/>
<circle class="B" cx="1495.6" cy="173.5" r="6.6"/>
<circle class="B" cx="1507.2" cy="167.2" r="6.6"/>
<circle class="B" cx="1509.3" cy="175.6" r="6.6"/>
<circle class="G" cx="1442.1" cy="183.0" r="6.6"/>
<circle class="G" cx="1484.1" cy="186.1" r="6.6"/>
<circle class="G" cx="1473.6" cy="189.3" r="6.6"/>
<circle class="B" cx="1495.6" cy="192.4" r="6.6"/>
<circle class="B" cx="1516.6" cy="183.0" r="6.6"/>
<circle class="B" cx="1529.2" cy="188.2" r="6.6"/>
<circle class="B" cx="1545.0" cy="193.5" r="6.6"/>
<circle class="G" cx="1454.7" cy="190.3" r="6.6"/>
<circle class="B" cx="1462.0" cy="194.5" r="6.6"/>
<circle class="B" cx="1447.3" cy="198.7" r="6.6"/>
<circle class="B" cx="1471.5" cy="199.8" r="6.6"/>
<circle class="G" cx="1480.9" cy="195.6" r="6.6"/>
<circle class="G" cx="1497.7" cy="199.8" r="6.6"/>
<circle class="B" cx="1549.2" cy="175.6" r="6.6"/>
<circle class="B" cx="1568.3" cy="133.6" r="6.6"/>
<circle class="B" cx="1588.3" cy="129.4" r="6.6"/>
<circle class="B" cx="1599.8" cy="131.5" r="6.6"/>
<circle class="B" cx="1621.9" cy="125.2" r="6.6"/>
<circle class="B" cx="1640.8" cy="121.0" r="6.6"/>
<circle class="B" cx="1648.1" cy="129.4" r="6.6"/>
<circle class="B" cx="1619.8" cy="130.4" r="6.6"/>
<circle class="G" cx="1633.4" cy="132.5" r="6.6"/>
<circle class="G" cx="1561.0" cy="140.9" r="6.6"/>
<circle class="G" cx="1548.4" cy="145.1" r="6.6"/>
<circle class="B" cx="1573.6" cy="143.0" r="6.6"/>
<circle class="B" cx="1585.1" cy="146.2" r="6.6"/>
<circle class="G" cx="1606.1" cy="142.0" r="6.6"/>
<circle class="G" cx="1621.9" cy="138.8" r="6.6"/>
<circle class="B" cx="1546.3" cy="152.5" r="6.6"/>
<circle class="G" cx="1561.0" cy="150.4" r="6.6"/>
<circle class="B" cx="1586.2" cy="156.7" r="6.6"/>
<circle class="G" cx="1601.9" cy="151.4" r="6.6"/>
<circle class="B" cx="1616.6" cy="147.2" r="6.6"/>
<circle class="B" cx="1625.0" cy="147.2" r="6.6"/>
<circle class="B" cx="1633.4" cy="144.1" r="6.6"/>
<circle class="G" cx="1647.1" cy="142.0" r="6.6"/>
<circle class="B" cx="1642.9" cy="149.3" r="6.6"/>
<circle class="G" cx="1543.1" cy="167.2" r="6.6"/>
<circle class="B" cx="1558.9" cy="159.8" r="6.6"/>
<circle class="G" cx="1566.2" cy="167.2" r="6.6"/>
<circle class="G" cx="1574.6" cy="165.1" r="6.6"/>
<circle class="G" cx="1599.8" cy="165.1" r="6.6"/>
<circle class="B" cx="1610.3" cy="158.8" r="6.6"/>
<circle class="G" cx="1615.6" cy="158.8" r="6.6"/>
<circle class="G" cx="1626.1" cy="156.7" r="6.6"/>
<circle class="G" cx="1584.1" cy="173.5" r="6.6"/>
<circle class="B" cx="1554.7" cy="176.6" r="6.6"/>
<circle class="B" cx="1690.8" cy="111.8" r="6.6"/>
<circle class="B" cx="1677.2" cy="114.9" r="6.6"/>
<circle class="B" cx="1661.4" cy="114.9" r="6.6"/>
<circle class="B" cx="1640.4" cy="120.2" r="6.6"/>
<circle class="B" cx="1622.6" cy="124.4" r="6.6"/>
<circle class="B" cx="1619.4" cy="130.7" r="6.6"/>
<circle class="G" cx="1628.9" cy="129.6" r="6.6"/>
<circle class="B" cx="1652.0" cy="128.6" r="6.6"/>
<circle class="B" cx="1666.7" cy="122.3" r="6.6"/>
<circle class="B" cx="1671.9" cy="126.5" r="6.6"/>
<circle class="G" cx="1684.5" cy="121.2" r="6.6"/>
<circle class="G" cx="1695.0" cy="122.3" r="6.6"/>
<circle class="G" cx="1690.8" cy="131.7" r="6.6"/>
<circle class="G" cx="1634.1" cy="133.8" r="6.6"/>
<circle class="G" cx="1622.6" cy="139.1" r="6.6"/>
<circle class="G" cx="1659.3" cy="134.9" r="6.6"/>
<circle class="G" cx="1678.2" cy="137.0" r="6.6"/>
<circle class="G" cx="1649.9" cy="142.8" r="6.6"/>
<circle class="B" cx="1667.2" cy="141.7" r="6.6"/>
<circle class="B" cx="1643.6" cy="148.5" r="6.6"/>
<circle class="B" cx="1616.3" cy="146.4" r="6.6"/>
<circle class="B" cx="1631.0" cy="144.3" r="6.6"/>
<circle class="B" cx="1625.7" cy="147.5" r="6.6"/>
<circle class="G" cx="1626.8" cy="156.9" r="6.6"/>
<circle class="G" cx="1615.2" cy="159.0" r="6.6"/>
<circle class="G" cx="1611.0" cy="141.2" r="6.6"/>
<rect x="1537.5" y="270.5" width="341.29999999999995" height="85.10000000000002" fill="#fff" stroke="#000" stroke-width="1.1"/>
<circle cx="1576.8" cy="286.7" r="6.7" fill="#77ac30" stroke="#111" stroke-width="2.1"/>
<text x="1616.0" y="295.0" text-anchor="start" font-size="19.8" fill="#000" >до падения напряжения</text>
<circle cx="1576.8" cy="313.1" r="6.7" fill="#4b4bd6" stroke="#111" stroke-width="2.1"/>
<text x="1616.0" y="320.9" text-anchor="start" font-size="19.8" fill="#000" >после падения напряжения</text>
<circle cx="1576.8" cy="339.7" r="6.7" fill="#d95319" stroke="#111" stroke-width="2.1"/>
<text x="1616.0" y="347.0" text-anchor="start" font-size="19.8" fill="#000" >при падении напряжения</text>
<text x="1531.8" y="768" text-anchor="middle" font-size="46" font-weight="bold" font-family="Liberation Serif, serif" fill="#000">(б)</text>
</svg></body></html>
